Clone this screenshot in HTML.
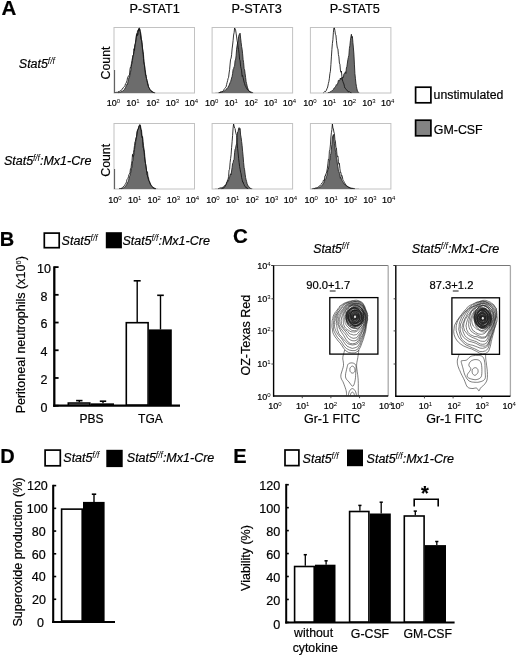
<!DOCTYPE html>
<html><head><meta charset="utf-8"><title>Figure</title>
<style>html,body{margin:0;padding:0;background:#fff;}body{width:520px;height:657px;overflow:hidden;}svg{display:block;}text{stroke:#000;stroke-width:0.2px;}tspan[font-size]{stroke-width:0;}</style>
</head><body>
<svg width="520" height="657" viewBox="0 0 520 657" font-family="'Liberation Sans', Arial, sans-serif" fill="#000">
<rect x="0" y="0" width="520" height="657" fill="#fff"/>
<text x="1.4" y="15.4" font-size="20.5" font-weight="bold">A</text>
<text x="154.6" y="12.7" font-size="12.7" text-anchor="middle">P-STAT1</text>
<text x="256.6" y="12.7" font-size="12.7" text-anchor="middle">P-STAT3</text>
<text x="354.8" y="12.7" font-size="12.7" text-anchor="middle">P-STAT5</text>
<text x="18.8" y="67.6" font-size="12.5" font-style="italic">Stat5<tspan font-size="8.5" dx="-0.2" dy="-3.9">f/f</tspan></text>
<text x="3.9" y="164.6" font-size="12.5" font-style="italic">Stat5<tspan font-size="8.5" dx="-0.2" dy="-3.9">f/f</tspan><tspan dy="3.9">:Mx1-Cre</tspan></text>
<rect x="114" y="27.5" width="80.5" height="65.5" fill="#fff" stroke="#c2c2c2" stroke-width="1"/>
<path d="M114.5 93 L114.5 92.94 L115 92.92 L115.5 92.9 L116 92.87 L116.5 92.83 L117 92.79 L117.5 92.74 L118 92.67 L118.5 92.59 L119 92.49 L119.5 92.27 L120 92.16 L120.5 92.03 L121 92.02 L121.5 91.6 L122 91.16 L122.5 91.21 L123 90.63 L123.5 90.43 L124 89.8 L124.5 89.36 L125 88.2 L125.5 87.75 L126 86.2 L126.5 85.15 L127 84.12 L127.5 84.34 L128 81.54 L128.5 79.49 L129 77.49 L129.5 77.33 L130 74.03 L130.5 72.35 L131 69.63 L131.5 64.55 L132 64.2 L132.5 60.29 L133 56.1 L133.5 54.95 L134 51.23 L134.5 47.85 L135 44.86 L135.5 43.56 L136 39.04 L136.5 34.73 L137 36.11 L137.5 30.89 L138 30.11 L138.5 29.8 L139 28 L139.5 28 L140 31.25 L140.5 32.1 L141 34.71 L141.5 39.5 L142 42.54 L142.5 47.88 L143 51.38 L143.5 54.77 L144 61.78 L144.5 64.68 L145 69.32 L145.5 72.02 L146 76.68 L146.5 78.68 L147 80.74 L147.5 82.13 L148 83.95 L148.5 86.74 L149 87.77 L149.5 88.4 L150 89.95 L150.5 90.34 L151 90.87 L151.5 91.09 L152 91.59 L152.5 92.09 L153 92.33 L153.5 92.45 L154 92.59 L154.5 92.69 L155 92.78 L155.5 92.84 L156 92.88 L156.5 92.91 L157 92.94 L157.5 92.96 L158 92.97 L158.5 92.98 L159 92.99 L159.5 92.99 L160 92.99 L160.5 93 L161 93 L161.5 93 L162 93 L162.5 93 L163 93 L163.5 93 L164 93 L164.5 93 L165 93 L165.5 93 L166 93 L166.5 93 L167 93 L167.5 93 L168 93 L168.5 93 L169 93 L169.5 93 L170 93 L170.5 93 L171 93 L171.5 93 L172 93 L172.5 93 L173 93 L173.5 93 L174 93 L174.5 93 L175 93 L175.5 93 L176 93 L176.5 93 L177 93 L177.5 93 L178 93 L178.5 93 L179 93 L179.5 93 L180 93 L180.5 93 L181 93 L181.5 93 L182 93 L182.5 93 L183 93 L183.5 93 L184 93 L184.5 93 L185 93 L185.5 93 L186 93 L186.5 93 L187 93 L187.5 93 L188 93 L188.5 93 L189 93 L189.5 93 L190 93 L190.5 93 L191 93 L191.5 93 L192 93 L192.5 93 L193 93 L193.5 93 L194 93 L194 93 Z" fill="#6c6c6c"/>
<path d="M118 92.67 L118.5 92.59 L119 92.49 L119.5 92.27 L120 92.16 L120.5 92.03 L121 92.02 L121.5 91.6 L122 91.16 L122.5 91.21 L123 90.63 L123.5 90.43 L124 89.8 L124.5 89.36 L125 88.2 L125.5 87.75 L126 86.2 L126.5 85.15 L127 84.12 L127.5 84.34 L128 81.54 L128.5 79.49 L129 77.49 L129.5 77.33 L130 74.03 L130.5 72.35 L131 69.63 L131.5 64.55 L132 64.2 L132.5 60.29 L133 56.1 L133.5 54.95 L134 51.23 L134.5 47.85 L135 44.86 L135.5 43.56 L136 39.04 L136.5 34.73 L137 36.11 L137.5 30.89 L138 30.11 L138.5 29.8 L139 28 L139.5 28 L140 31.25 L140.5 32.1 L141 34.71 L141.5 39.5 L142 42.54 L142.5 47.88 L143 51.38 L143.5 54.77 L144 61.78 L144.5 64.68 L145 69.32 L145.5 72.02 L146 76.68 L146.5 78.68 L147 80.74 L147.5 82.13 L148 83.95 L148.5 86.74 L149 87.77 L149.5 88.4 L150 89.95 L150.5 90.34 L151 90.87 L151.5 91.09 L152 91.59 L152.5 92.09 L153 92.33 L153.5 92.45 L154 92.59 L154.5 92.69" fill="none" stroke="#222" stroke-width="0.9"/>
<path d="M114.5 92.62 L115 92.55 L115.5 92.47 L116 92.72 L116.5 92.32 L117 92.29 L117.5 92.42 L118 91.65 L118.5 91.65 L119 91.41 L119.5 91.36 L120 90.79 L120.5 90.7 L121 90.25 L121.5 90.09 L122 89.7 L122.5 88.38 L123 88.44 L123.5 87.48 L124 86.9 L124.5 86.33 L125 85.52 L125.5 83.8 L126 83.41 L126.5 82.14 L127 80.71 L127.5 78.06 L128 77.02 L128.5 75.72 L129 75.33 L129.5 74.85 L130 69.14 L130.5 67.02 L131 66.58 L131.5 63.16 L132 60.36 L132.5 57.77 L133 55.03 L133.5 54.59 L134 48.74 L134.5 50.45 L135 44.37 L135.5 42.3 L136 39.1 L136.5 35.02 L137 33.33 L137.5 35.43 L138 34.46 L138.5 28.97 L139 30.89 L139.5 29.21 L140 29.32 L140.5 35.76 L141 39.72 L141.5 39.67 L142 44.11 L142.5 48.89 L143 52.81 L143.5 58.58 L144 63.82 L144.5 65.64 L145 70.65 L145.5 75.13 L146 74.88 L146.5 78.42 L147 80.38 L147.5 83.69 L148 85.15 L148.5 86.8 L149 87.95 L149.5 88.59 L150 89.77 L150.5 90.2 L151 90.8 L151.5 90.88 L152 92.08 L152.5 91.83 L153 92.29 L153.5 92.45 L154 92.59 L154.5 92.7" fill="none" stroke="#111" stroke-width="0.85"/>
<line x1="114.6" y1="70" x2="114.6" y2="93" stroke="#555" stroke-width="1"/>
<text x="106.8" y="106.3" font-size="9">10<tspan font-size="6" dy="-2.9">0</tspan></text>
<text x="126.3" y="106.3" font-size="9">10<tspan font-size="6" dy="-2.9">1</tspan></text>
<text x="146.3" y="106.3" font-size="9">10<tspan font-size="6" dy="-2.9">2</tspan></text>
<text x="165.8" y="106.3" font-size="9">10<tspan font-size="6" dy="-2.9">3</tspan></text>
<text x="184.7" y="106.3" font-size="9">10<tspan font-size="6" dy="-2.9">4</tspan></text>
<text transform="translate(110.3,63) rotate(-90)" font-size="12.3" text-anchor="middle">Count</text>
<rect x="212.1" y="27.5" width="80.5" height="65.5" fill="#fff" stroke="#c2c2c2" stroke-width="1"/>
<path d="M212.6 93 L212.6 92.96 L213.1 92.95 L213.6 92.94 L214.1 92.92 L214.6 92.91 L215.1 92.89 L215.6 92.87 L216.1 92.85 L216.6 92.82 L217.1 92.79 L217.6 92.75 L218.1 92.71 L218.6 92.66 L219.1 92.6 L219.6 92.53 L220.1 92.44 L220.6 92.1 L221.1 92.41 L221.6 91.9 L222.1 91.66 L222.6 91.73 L223.1 91.48 L223.6 90.97 L224.1 91.13 L224.6 90.9 L225.1 90.7 L225.6 90.02 L226.1 89.24 L226.6 88.8 L227.1 88.73 L227.6 88.07 L228.1 87.21 L228.6 86.02 L229.1 85.28 L229.6 83.96 L230.1 82.66 L230.6 81.71 L231.1 79.99 L231.6 78.06 L232.1 76.47 L232.6 73.69 L233.1 69.6 L233.6 68.78 L234.1 66.78 L234.6 66.13 L235.1 60.31 L235.6 60.02 L236.1 55.81 L236.6 49.22 L237.1 45.67 L237.6 43.02 L238.1 41.42 L238.6 36.42 L239.1 35 L239.6 33.86 L240.1 33.19 L240.6 38.1 L241.1 42.41 L241.6 46.55 L242.1 49.22 L242.6 53.8 L243.1 59.64 L243.6 62.55 L244.1 68.61 L244.6 69.81 L245.1 73.82 L245.6 77.42 L246.1 81.76 L246.6 83.61 L247.1 86.07 L247.6 87.85 L248.1 89.16 L248.6 90.39 L249.1 91.23 L249.6 91.4 L250.1 92.04 L250.6 92.28 L251.1 92.55 L251.6 92.7 L252.1 92.81 L252.6 92.88 L253.1 92.93 L253.6 92.95 L254.1 92.97 L254.6 92.98 L255.1 92.99 L255.6 92.99 L256.1 93 L256.6 93 L257.1 93 L257.6 93 L258.1 93 L258.6 93 L259.1 93 L259.6 93 L260.1 93 L260.6 93 L261.1 93 L261.6 93 L262.1 93 L262.6 93 L263.1 93 L263.6 93 L264.1 93 L264.6 93 L265.1 93 L265.6 93 L266.1 93 L266.6 93 L267.1 93 L267.6 93 L268.1 93 L268.6 93 L269.1 93 L269.6 93 L270.1 93 L270.6 93 L271.1 93 L271.6 93 L272.1 93 L272.6 93 L273.1 93 L273.6 93 L274.1 93 L274.6 93 L275.1 93 L275.6 93 L276.1 93 L276.6 93 L277.1 93 L277.6 93 L278.1 93 L278.6 93 L279.1 93 L279.6 93 L280.1 93 L280.6 93 L281.1 93 L281.6 93 L282.1 93 L282.6 93 L283.1 93 L283.6 93 L284.1 93 L284.6 93 L285.1 93 L285.6 93 L286.1 93 L286.6 93 L287.1 93 L287.6 93 L288.1 93 L288.6 93 L289.1 93 L289.6 93 L290.1 93 L290.6 93 L291.1 93 L291.6 93 L292.1 93 L292.1 93 Z" fill="#6c6c6c"/>
<path d="M218.6 92.66 L219.1 92.6 L219.6 92.53 L220.1 92.44 L220.6 92.1 L221.1 92.41 L221.6 91.9 L222.1 91.66 L222.6 91.73 L223.1 91.48 L223.6 90.97 L224.1 91.13 L224.6 90.9 L225.1 90.7 L225.6 90.02 L226.1 89.24 L226.6 88.8 L227.1 88.73 L227.6 88.07 L228.1 87.21 L228.6 86.02 L229.1 85.28 L229.6 83.96 L230.1 82.66 L230.6 81.71 L231.1 79.99 L231.6 78.06 L232.1 76.47 L232.6 73.69 L233.1 69.6 L233.6 68.78 L234.1 66.78 L234.6 66.13 L235.1 60.31 L235.6 60.02 L236.1 55.81 L236.6 49.22 L237.1 45.67 L237.6 43.02 L238.1 41.42 L238.6 36.42 L239.1 35 L239.6 33.86 L240.1 33.19 L240.6 38.1 L241.1 42.41 L241.6 46.55 L242.1 49.22 L242.6 53.8 L243.1 59.64 L243.6 62.55 L244.1 68.61 L244.6 69.81 L245.1 73.82 L245.6 77.42 L246.1 81.76 L246.6 83.61 L247.1 86.07 L247.6 87.85 L248.1 89.16 L248.6 90.39 L249.1 91.23 L249.6 91.4 L250.1 92.04 L250.6 92.28 L251.1 92.55 L251.6 92.7" fill="none" stroke="#222" stroke-width="0.9"/>
<path d="M219.1 92.64 L219.6 92.54 L220.1 92.42 L220.6 92.14 L221.1 92.34 L221.6 91.6 L222.1 91.82 L222.6 91.28 L223.1 91.15 L223.6 90.5 L224.1 89.27 L224.6 88.63 L225.1 88.17 L225.6 87.37 L226.1 86.81 L226.6 84.52 L227.1 82.58 L227.6 80.67 L228.1 78.45 L228.6 77.32 L229.1 72.99 L229.6 69.72 L230.1 64.02 L230.6 59.2 L231.1 58.19 L231.6 54.72 L232.1 48.93 L232.6 45.03 L233.1 40.55 L233.6 35.02 L234.1 32.74 L234.6 28 L235.1 28.98 L235.6 30.11 L236.1 33.19 L236.6 36.96 L237.1 40.58 L237.6 42.96 L238.1 47.12 L238.6 49.59 L239.1 53.69 L239.6 59.5 L240.1 60.74 L240.6 66.36 L241.1 68.36 L241.6 70.81 L242.1 76.38 L242.6 75.46 L243.1 77.68 L243.6 80.08 L244.1 82.13 L244.6 83.67 L245.1 85.46 L245.6 86.23 L246.1 87.43 L246.6 88.08 L247.1 89.32 L247.6 89.56 L248.1 90.18 L248.6 90.74 L249.1 91.23 L249.6 91.34 L250.1 92.16 L250.6 91.89 L251.1 92.14 L251.6 92.29 L252.1 92.49 L252.6 92.6 L253.1 92.68" fill="none" stroke="#111" stroke-width="0.85"/>
<text x="204.9" y="106.3" font-size="9">10<tspan font-size="6" dy="-2.9">0</tspan></text>
<text x="224.4" y="106.3" font-size="9">10<tspan font-size="6" dy="-2.9">1</tspan></text>
<text x="244.4" y="106.3" font-size="9">10<tspan font-size="6" dy="-2.9">2</tspan></text>
<text x="263.9" y="106.3" font-size="9">10<tspan font-size="6" dy="-2.9">3</tspan></text>
<text x="282.8" y="106.3" font-size="9">10<tspan font-size="6" dy="-2.9">4</tspan></text>
<rect x="310.4" y="27.5" width="80.5" height="65.5" fill="#fff" stroke="#c2c2c2" stroke-width="1"/>
<path d="M310.9 93 L310.9 93 L311.4 93 L311.9 93 L312.4 93 L312.9 93 L313.4 93 L313.9 93 L314.4 93 L314.9 93 L315.4 93 L315.9 93 L316.4 93 L316.9 93 L317.4 93 L317.9 93 L318.4 93 L318.9 93 L319.4 93 L319.9 93 L320.4 93 L320.9 93 L321.4 92.99 L321.9 92.99 L322.4 92.99 L322.9 92.98 L323.4 92.98 L323.9 92.97 L324.4 92.96 L324.9 92.94 L325.4 92.92 L325.9 92.89 L326.4 92.86 L326.9 92.81 L327.4 92.74 L327.9 92.66 L328.4 92.55 L328.9 92.42 L329.4 92.4 L329.9 92.08 L330.4 91.77 L330.9 91.4 L331.4 91.24 L331.9 90.69 L332.4 90.5 L332.9 89.9 L333.4 89.51 L333.9 88.32 L334.4 87.98 L334.9 87.54 L335.4 86.68 L335.9 85.87 L336.4 84.64 L336.9 85.15 L337.4 84.13 L337.9 83.02 L338.4 80.29 L338.9 80.73 L339.4 80.93 L339.9 79.7 L340.4 78.01 L340.9 79.53 L341.4 79.24 L341.9 77.36 L342.4 77.59 L342.9 76.9 L343.4 77.5 L343.9 74.11 L344.4 73.3 L344.9 73.39 L345.4 71.75 L345.9 73.52 L346.4 67.97 L346.9 66.62 L347.4 63.01 L347.9 59.52 L348.4 57.34 L348.9 55.26 L349.4 48.47 L349.9 45.62 L350.4 40.76 L350.9 37.05 L351.4 34.3 L351.9 38 L352.4 36.48 L352.9 42.65 L353.4 47.94 L353.9 54.09 L354.4 64.12 L354.9 73.54 L355.4 78.25 L355.9 83.17 L356.4 86.34 L356.9 88.77 L357.4 90.96 L357.9 91.61 L358.4 92.61 L358.9 92.67 L359.4 92.85 L359.9 92.93 L360.4 92.97 L360.9 92.99 L361.4 93 L361.9 93 L362.4 93 L362.9 93 L363.4 93 L363.9 93 L364.4 93 L364.9 93 L365.4 93 L365.9 93 L366.4 93 L366.9 93 L367.4 93 L367.9 93 L368.4 93 L368.9 93 L369.4 93 L369.9 93 L370.4 93 L370.9 93 L371.4 93 L371.9 93 L372.4 93 L372.9 93 L373.4 93 L373.9 93 L374.4 93 L374.9 93 L375.4 93 L375.9 93 L376.4 93 L376.9 93 L377.4 93 L377.9 93 L378.4 93 L378.9 93 L379.4 93 L379.9 93 L380.4 93 L380.9 93 L381.4 93 L381.9 93 L382.4 93 L382.9 93 L383.4 93 L383.9 93 L384.4 93 L384.9 93 L385.4 93 L385.9 93 L386.4 93 L386.9 93 L387.4 93 L387.9 93 L388.4 93 L388.9 93 L389.4 93 L389.9 93 L390.4 93 L390.4 93 Z" fill="#6c6c6c"/>
<path d="M327.9 92.66 L328.4 92.55 L328.9 92.42 L329.4 92.4 L329.9 92.08 L330.4 91.77 L330.9 91.4 L331.4 91.24 L331.9 90.69 L332.4 90.5 L332.9 89.9 L333.4 89.51 L333.9 88.32 L334.4 87.98 L334.9 87.54 L335.4 86.68 L335.9 85.87 L336.4 84.64 L336.9 85.15 L337.4 84.13 L337.9 83.02 L338.4 80.29 L338.9 80.73 L339.4 80.93 L339.9 79.7 L340.4 78.01 L340.9 79.53 L341.4 79.24 L341.9 77.36 L342.4 77.59 L342.9 76.9 L343.4 77.5 L343.9 74.11 L344.4 73.3 L344.9 73.39 L345.4 71.75 L345.9 73.52 L346.4 67.97 L346.9 66.62 L347.4 63.01 L347.9 59.52 L348.4 57.34 L348.9 55.26 L349.4 48.47 L349.9 45.62 L350.4 40.76 L350.9 37.05 L351.4 34.3 L351.9 38 L352.4 36.48 L352.9 42.65 L353.4 47.94 L353.9 54.09 L354.4 64.12 L354.9 73.54 L355.4 78.25 L355.9 83.17 L356.4 86.34 L356.9 88.77 L357.4 90.96 L357.9 91.61 L358.4 92.61" fill="none" stroke="#222" stroke-width="0.9"/>
<path d="M323.4 92.66 L323.9 92.49 L324.4 92.03 L324.9 91.33 L325.4 91.74 L325.9 91 L326.4 90.27 L326.9 88.73 L327.4 88.06 L327.9 86.01 L328.4 83.43 L328.9 81.5 L329.4 78.24 L329.9 73.58 L330.4 71.28 L330.9 64.67 L331.4 56.89 L331.9 49.48 L332.4 43.41 L332.9 39.69 L333.4 32.3 L333.9 28 L334.4 28 L334.9 30.53 L335.4 34.34 L335.9 34.98 L336.4 40.37 L336.9 45.03 L337.4 48.32 L337.9 48.64 L338.4 54.5 L338.9 56.79 L339.4 63.06 L339.9 64.25 L340.4 69.95 L340.9 72.24 L341.4 71.1 L341.9 76.25 L342.4 80 L342.9 81.52 L343.4 82.95 L343.9 83.94 L344.4 86.35 L344.9 88.04 L345.4 88.33 L345.9 89.06 L346.4 89.75 L346.9 90.06 L347.4 90.8 L347.9 91.09 L348.4 91.89 L348.9 91.7 L349.4 91.63 L349.9 92.13 L350.4 92.46 L350.9 92.58 L351.4 92.67" fill="none" stroke="#111" stroke-width="0.85"/>
<text x="303.2" y="106.3" font-size="9">10<tspan font-size="6" dy="-2.9">0</tspan></text>
<text x="322.7" y="106.3" font-size="9">10<tspan font-size="6" dy="-2.9">1</tspan></text>
<text x="342.7" y="106.3" font-size="9">10<tspan font-size="6" dy="-2.9">2</tspan></text>
<text x="362.2" y="106.3" font-size="9">10<tspan font-size="6" dy="-2.9">3</tspan></text>
<text x="381.1" y="106.3" font-size="9">10<tspan font-size="6" dy="-2.9">4</tspan></text>
<rect x="114" y="123.5" width="80.5" height="65.5" fill="#fff" stroke="#c2c2c2" stroke-width="1"/>
<path d="M114.5 189 L114.5 188.99 L115 188.99 L115.5 188.99 L116 188.98 L116.5 188.98 L117 188.97 L117.5 188.96 L118 188.94 L118.5 188.92 L119 188.89 L119.5 188.86 L120 188.81 L120.5 188.75 L121 188.68 L121.5 188.58 L122 188.46 L122.5 188.35 L123 188.29 L123.5 187.8 L124 187.76 L124.5 187.41 L125 187.1 L125.5 186.29 L126 185.55 L126.5 184.66 L127 184.12 L127.5 182.67 L128 181.91 L128.5 180.64 L129 178.71 L129.5 176.59 L130 175.78 L130.5 173.63 L131 171.26 L131.5 168.45 L132 167.02 L132.5 161.62 L133 160.43 L133.5 156.13 L134 154.53 L134.5 149.65 L135 146.26 L135.5 144.01 L136 137.61 L136.5 136.68 L137 131.99 L137.5 130.46 L138 130.3 L138.5 128.06 L139 125.54 L139.5 125.06 L140 124.65 L140.5 125.68 L141 129.45 L141.5 130.02 L142 135.85 L142.5 136.17 L143 141.58 L143.5 145.71 L144 149.26 L144.5 152.76 L145 158.99 L145.5 163.23 L146 165.92 L146.5 170.49 L147 171.99 L147.5 171.96 L148 176.87 L148.5 177.63 L149 180.75 L149.5 181.39 L150 183.02 L150.5 184.06 L151 184.85 L151.5 185.44 L152 186.42 L152.5 186.97 L153 187.62 L153.5 187.66 L154 188.1 L154.5 188.11 L155 188.45 L155.5 188.58 L156 188.68 L156.5 188.76 L157 188.83 L157.5 188.87 L158 188.91 L158.5 188.93 L159 188.95 L159.5 188.96 L160 188.97 L160.5 188.98 L161 188.99 L161.5 188.99 L162 188.99 L162.5 189 L163 189 L163.5 189 L164 189 L164.5 189 L165 189 L165.5 189 L166 189 L166.5 189 L167 189 L167.5 189 L168 189 L168.5 189 L169 189 L169.5 189 L170 189 L170.5 189 L171 189 L171.5 189 L172 189 L172.5 189 L173 189 L173.5 189 L174 189 L174.5 189 L175 189 L175.5 189 L176 189 L176.5 189 L177 189 L177.5 189 L178 189 L178.5 189 L179 189 L179.5 189 L180 189 L180.5 189 L181 189 L181.5 189 L182 189 L182.5 189 L183 189 L183.5 189 L184 189 L184.5 189 L185 189 L185.5 189 L186 189 L186.5 189 L187 189 L187.5 189 L188 189 L188.5 189 L189 189 L189.5 189 L190 189 L190.5 189 L191 189 L191.5 189 L192 189 L192.5 189 L193 189 L193.5 189 L194 189 L194 189 Z" fill="#6c6c6c"/>
<path d="M121 188.68 L121.5 188.58 L122 188.46 L122.5 188.35 L123 188.29 L123.5 187.8 L124 187.76 L124.5 187.41 L125 187.1 L125.5 186.29 L126 185.55 L126.5 184.66 L127 184.12 L127.5 182.67 L128 181.91 L128.5 180.64 L129 178.71 L129.5 176.59 L130 175.78 L130.5 173.63 L131 171.26 L131.5 168.45 L132 167.02 L132.5 161.62 L133 160.43 L133.5 156.13 L134 154.53 L134.5 149.65 L135 146.26 L135.5 144.01 L136 137.61 L136.5 136.68 L137 131.99 L137.5 130.46 L138 130.3 L138.5 128.06 L139 125.54 L139.5 125.06 L140 124.65 L140.5 125.68 L141 129.45 L141.5 130.02 L142 135.85 L142.5 136.17 L143 141.58 L143.5 145.71 L144 149.26 L144.5 152.76 L145 158.99 L145.5 163.23 L146 165.92 L146.5 170.49 L147 171.99 L147.5 171.96 L148 176.87 L148.5 177.63 L149 180.75 L149.5 181.39 L150 183.02 L150.5 184.06 L151 184.85 L151.5 185.44 L152 186.42 L152.5 186.97 L153 187.62 L153.5 187.66 L154 188.1 L154.5 188.11 L155 188.45 L155.5 188.58 L156 188.68" fill="none" stroke="#222" stroke-width="0.9"/>
<path d="M119 188.65 L119.5 188.56 L120 188.44 L120.5 188.49 L121 188.68 L121.5 188.11 L122 188.17 L122.5 187.4 L123 186.78 L123.5 186.46 L124 186.45 L124.5 185.76 L125 184.3 L125.5 183.99 L126 183.23 L126.5 181.65 L127 179.52 L127.5 178.83 L128 178.22 L128.5 176.39 L129 174.28 L129.5 173.82 L130 172.47 L130.5 168.59 L131 167.76 L131.5 163.77 L132 160.8 L132.5 154.38 L133 156.57 L133.5 152.42 L134 149.47 L134.5 145.49 L135 141.54 L135.5 141.1 L136 138.86 L136.5 137.58 L137 134.06 L137.5 129.62 L138 128.61 L138.5 128.87 L139 126.8 L139.5 125.56 L140 124.88 L140.5 128 L141 129.74 L141.5 135.23 L142 137.64 L142.5 137.05 L143 147.18 L143.5 148.35 L144 151.59 L144.5 156.56 L145 161.11 L145.5 163.55 L146 166.84 L146.5 170.05 L147 175.16 L147.5 175.38 L148 178.22 L148.5 179.78 L149 180.88 L149.5 182.12 L150 183.29 L150.5 184.86 L151 185.29 L151.5 185.96 L152 186.55 L152.5 186.95 L153 187.7 L153.5 188.01 L154 188.01 L154.5 188.72 L155 188.54 L155.5 188.65" fill="none" stroke="#111" stroke-width="0.85"/>
<line x1="114.6" y1="169" x2="114.6" y2="189" stroke="#555" stroke-width="1"/>
<text x="108.2" y="202.5" font-size="9">10<tspan font-size="6" dy="-2.9">0</tspan></text>
<text x="128" y="202.5" font-size="9">10<tspan font-size="6" dy="-2.9">1</tspan></text>
<text x="147.5" y="202.5" font-size="9">10<tspan font-size="6" dy="-2.9">2</tspan></text>
<text x="166.8" y="202.5" font-size="9">10<tspan font-size="6" dy="-2.9">3</tspan></text>
<text x="185.7" y="202.5" font-size="9">10<tspan font-size="6" dy="-2.9">4</tspan></text>
<text transform="translate(110.3,160.3) rotate(-90)" font-size="12.3" text-anchor="middle">Count</text>
<rect x="212.1" y="123.5" width="80.5" height="65.5" fill="#fff" stroke="#c2c2c2" stroke-width="1"/>
<path d="M212.6 189 L212.6 188.95 L213.1 188.94 L213.6 188.93 L214.1 188.91 L214.6 188.89 L215.1 188.87 L215.6 188.85 L216.1 188.82 L216.6 188.78 L217.1 188.74 L217.6 188.69 L218.1 188.63 L218.6 188.56 L219.1 188.47 L219.6 188.14 L220.1 188.15 L220.6 187.79 L221.1 187.78 L221.6 187.81 L222.1 187.62 L222.6 187.33 L223.1 187.03 L223.6 186.85 L224.1 186.38 L224.6 185.63 L225.1 185.86 L225.6 184.85 L226.1 184.58 L226.6 183.53 L227.1 182.46 L227.6 181.93 L228.1 180.49 L228.6 180.73 L229.1 177.78 L229.6 177.62 L230.1 175.09 L230.6 173.77 L231.1 174.95 L231.6 171.04 L232.1 167.65 L232.6 163.57 L233.1 162.71 L233.6 160.07 L234.1 159.4 L234.6 152.73 L235.1 149.14 L235.6 148.26 L236.1 145.33 L236.6 143.89 L237.1 137.42 L237.6 131.97 L238.1 131.7 L238.6 128.52 L239.1 127.65 L239.6 129.68 L240.1 128.55 L240.6 134.96 L241.1 137.56 L241.6 141.46 L242.1 145.57 L242.6 151.2 L243.1 156.19 L243.6 162.43 L244.1 167.52 L244.6 169.77 L245.1 174.11 L245.6 177.53 L246.1 179.89 L246.6 181.5 L247.1 183.76 L247.6 184.87 L248.1 185.97 L248.6 186.46 L249.1 187.1 L249.6 187.3 L250.1 188.36 L250.6 188.48 L251.1 188.55 L251.6 188.69 L252.1 188.79 L252.6 188.86 L253.1 188.91 L253.6 188.94 L254.1 188.96 L254.6 188.98 L255.1 188.98 L255.6 188.99 L256.1 188.99 L256.6 189 L257.1 189 L257.6 189 L258.1 189 L258.6 189 L259.1 189 L259.6 189 L260.1 189 L260.6 189 L261.1 189 L261.6 189 L262.1 189 L262.6 189 L263.1 189 L263.6 189 L264.1 189 L264.6 189 L265.1 189 L265.6 189 L266.1 189 L266.6 189 L267.1 189 L267.6 189 L268.1 189 L268.6 189 L269.1 189 L269.6 189 L270.1 189 L270.6 189 L271.1 189 L271.6 189 L272.1 189 L272.6 189 L273.1 189 L273.6 189 L274.1 189 L274.6 189 L275.1 189 L275.6 189 L276.1 189 L276.6 189 L277.1 189 L277.6 189 L278.1 189 L278.6 189 L279.1 189 L279.6 189 L280.1 189 L280.6 189 L281.1 189 L281.6 189 L282.1 189 L282.6 189 L283.1 189 L283.6 189 L284.1 189 L284.6 189 L285.1 189 L285.6 189 L286.1 189 L286.6 189 L287.1 189 L287.6 189 L288.1 189 L288.6 189 L289.1 189 L289.6 189 L290.1 189 L290.6 189 L291.1 189 L291.6 189 L292.1 189 L292.1 189 Z" fill="#6c6c6c"/>
<path d="M218.1 188.63 L218.6 188.56 L219.1 188.47 L219.6 188.14 L220.1 188.15 L220.6 187.79 L221.1 187.78 L221.6 187.81 L222.1 187.62 L222.6 187.33 L223.1 187.03 L223.6 186.85 L224.1 186.38 L224.6 185.63 L225.1 185.86 L225.6 184.85 L226.1 184.58 L226.6 183.53 L227.1 182.46 L227.6 181.93 L228.1 180.49 L228.6 180.73 L229.1 177.78 L229.6 177.62 L230.1 175.09 L230.6 173.77 L231.1 174.95 L231.6 171.04 L232.1 167.65 L232.6 163.57 L233.1 162.71 L233.6 160.07 L234.1 159.4 L234.6 152.73 L235.1 149.14 L235.6 148.26 L236.1 145.33 L236.6 143.89 L237.1 137.42 L237.6 131.97 L238.1 131.7 L238.6 128.52 L239.1 127.65 L239.6 129.68 L240.1 128.55 L240.6 134.96 L241.1 137.56 L241.6 141.46 L242.1 145.57 L242.6 151.2 L243.1 156.19 L243.6 162.43 L244.1 167.52 L244.6 169.77 L245.1 174.11 L245.6 177.53 L246.1 179.89 L246.6 181.5 L247.1 183.76 L247.6 184.87 L248.1 185.97 L248.6 186.46 L249.1 187.1 L249.6 187.3 L250.1 188.36 L250.6 188.48 L251.1 188.55 L251.6 188.69" fill="none" stroke="#222" stroke-width="0.9"/>
<path d="M221.6 188.64 L222.1 188.51 L222.6 188.39 L223.1 188.1 L223.6 188.19 L224.1 187.62 L224.6 186.86 L225.1 186.29 L225.6 185.23 L226.1 184.53 L226.6 182.25 L227.1 182.19 L227.6 179.71 L228.1 179.35 L228.6 176.28 L229.1 169.77 L229.6 169.32 L230.1 162.59 L230.6 158.6 L231.1 154.69 L231.6 147.66 L232.1 141.75 L232.6 135.57 L233.1 127.96 L233.6 124.02 L234.1 126.05 L234.6 128.04 L235.1 128.47 L235.6 132.12 L236.1 133.91 L236.6 135.31 L237.1 142.49 L237.6 148.3 L238.1 152.93 L238.6 158.34 L239.1 162.54 L239.6 166.57 L240.1 169.16 L240.6 172.35 L241.1 173.79 L241.6 177.55 L242.1 179.51 L242.6 181.98 L243.1 181.98 L243.6 183.91 L244.1 184.63 L244.6 185.85 L245.1 186.38 L245.6 187.35 L246.1 187.54 L246.6 187.4 L247.1 188.59 L247.6 188.49 L248.1 188.63" fill="none" stroke="#111" stroke-width="0.85"/>
<text x="206.3" y="202.5" font-size="9">10<tspan font-size="6" dy="-2.9">0</tspan></text>
<text x="226.1" y="202.5" font-size="9">10<tspan font-size="6" dy="-2.9">1</tspan></text>
<text x="245.6" y="202.5" font-size="9">10<tspan font-size="6" dy="-2.9">2</tspan></text>
<text x="264.9" y="202.5" font-size="9">10<tspan font-size="6" dy="-2.9">3</tspan></text>
<text x="283.8" y="202.5" font-size="9">10<tspan font-size="6" dy="-2.9">4</tspan></text>
<rect x="310.4" y="123.5" width="80.5" height="65.5" fill="#fff" stroke="#c2c2c2" stroke-width="1"/>
<path d="M310.9 189 L310.9 188.89 L311.4 188.87 L311.9 188.85 L312.4 188.82 L312.9 188.79 L313.4 188.75 L313.9 188.71 L314.4 188.66 L314.9 188.6 L315.4 188.53 L315.9 188.44 L316.4 188.13 L316.9 188.31 L317.4 188.16 L317.9 187.9 L318.4 187.56 L318.9 188.01 L319.4 187.49 L319.9 187.25 L320.4 186.95 L320.9 186.53 L321.4 186.11 L321.9 185.38 L322.4 185.14 L322.9 184.21 L323.4 183.37 L323.9 182.99 L324.4 181.67 L324.9 179.75 L325.4 179.23 L325.9 178.52 L326.4 176.55 L326.9 175.62 L327.4 172.5 L327.9 169.55 L328.4 169.27 L328.9 165.77 L329.4 161.06 L329.9 159.97 L330.4 155.56 L330.9 153.41 L331.4 149.14 L331.9 144.56 L332.4 136.82 L332.9 136.11 L333.4 134.5 L333.9 139.18 L334.4 143.26 L334.9 146.54 L335.4 151.18 L335.9 152.46 L336.4 158.26 L336.9 159.76 L337.4 164.09 L337.9 166.22 L338.4 171.16 L338.9 171.54 L339.4 173.34 L339.9 175.17 L340.4 178.22 L340.9 177.19 L341.4 179.29 L341.9 180.39 L342.4 181.24 L342.9 182.09 L343.4 182.6 L343.9 183.91 L344.4 184.37 L344.9 184.55 L345.4 185.08 L345.9 185.64 L346.4 186.06 L346.9 186.46 L347.4 186.62 L347.9 186.65 L348.4 187.33 L348.9 187.04 L349.4 187.37 L349.9 187.79 L350.4 187.7 L350.9 188.27 L351.4 188.44 L351.9 188.46 L352.4 188.38 L352.9 188.45 L353.4 188.45 L353.9 188.52 L354.4 188.58 L354.9 188.63 L355.4 188.67 L355.9 188.71 L356.4 188.74 L356.9 188.77 L357.4 188.8 L357.9 188.82 L358.4 188.85 L358.9 188.86 L359.4 188.88 L359.9 188.89 L360.4 188.91 L360.9 188.92 L361.4 188.93 L361.9 188.94 L362.4 188.94 L362.9 188.95 L363.4 188.96 L363.9 188.96 L364.4 188.97 L364.9 188.97 L365.4 188.97 L365.9 188.98 L366.4 188.98 L366.9 188.98 L367.4 188.98 L367.9 188.99 L368.4 188.99 L368.9 188.99 L369.4 188.99 L369.9 188.99 L370.4 188.99 L370.9 188.99 L371.4 188.99 L371.9 189 L372.4 189 L372.9 189 L373.4 189 L373.9 189 L374.4 189 L374.9 189 L375.4 189 L375.9 189 L376.4 189 L376.9 189 L377.4 189 L377.9 189 L378.4 189 L378.9 189 L379.4 189 L379.9 189 L380.4 189 L380.9 189 L381.4 189 L381.9 189 L382.4 189 L382.9 189 L383.4 189 L383.9 189 L384.4 189 L384.9 189 L385.4 189 L385.9 189 L386.4 189 L386.9 189 L387.4 189 L387.9 189 L388.4 189 L388.9 189 L389.4 189 L389.9 189 L390.4 189 L390.4 189 Z" fill="#6c6c6c"/>
<path d="M314.4 188.66 L314.9 188.6 L315.4 188.53 L315.9 188.44 L316.4 188.13 L316.9 188.31 L317.4 188.16 L317.9 187.9 L318.4 187.56 L318.9 188.01 L319.4 187.49 L319.9 187.25 L320.4 186.95 L320.9 186.53 L321.4 186.11 L321.9 185.38 L322.4 185.14 L322.9 184.21 L323.4 183.37 L323.9 182.99 L324.4 181.67 L324.9 179.75 L325.4 179.23 L325.9 178.52 L326.4 176.55 L326.9 175.62 L327.4 172.5 L327.9 169.55 L328.4 169.27 L328.9 165.77 L329.4 161.06 L329.9 159.97 L330.4 155.56 L330.9 153.41 L331.4 149.14 L331.9 144.56 L332.4 136.82 L332.9 136.11 L333.4 134.5 L333.9 139.18 L334.4 143.26 L334.9 146.54 L335.4 151.18 L335.9 152.46 L336.4 158.26 L336.9 159.76 L337.4 164.09 L337.9 166.22 L338.4 171.16 L338.9 171.54 L339.4 173.34 L339.9 175.17 L340.4 178.22 L340.9 177.19 L341.4 179.29 L341.9 180.39 L342.4 181.24 L342.9 182.09 L343.4 182.6 L343.9 183.91 L344.4 184.37 L344.9 184.55 L345.4 185.08 L345.9 185.64 L346.4 186.06 L346.9 186.46 L347.4 186.62 L347.9 186.65 L348.4 187.33 L348.9 187.04 L349.4 187.37 L349.9 187.79 L350.4 187.7 L350.9 188.27 L351.4 188.44 L351.9 188.46 L352.4 188.38 L352.9 188.45 L353.4 188.45 L353.9 188.52 L354.4 188.58 L354.9 188.63" fill="none" stroke="#222" stroke-width="0.9"/>
<path d="M312.4 188.62 L312.9 188.56 L313.4 188.49 L313.9 188.41 L314.4 188.44 L314.9 188.4 L315.4 187.85 L315.9 187.93 L316.4 188.06 L316.9 187.71 L317.4 187.59 L317.9 187.1 L318.4 186.87 L318.9 186.3 L319.4 186.05 L319.9 186.21 L320.4 185.22 L320.9 184.5 L321.4 184.02 L321.9 183.05 L322.4 182.99 L322.9 182.36 L323.4 180.19 L323.9 180.45 L324.4 180.19 L324.9 175.88 L325.4 176.01 L325.9 173.72 L326.4 173.23 L326.9 171 L327.4 168.09 L327.9 163.88 L328.4 159.44 L328.9 160.08 L329.4 151.2 L329.9 149.9 L330.4 144.94 L330.9 137.01 L331.4 132.78 L331.9 129.6 L332.4 124 L332.9 127.98 L333.4 128.91 L333.9 132.08 L334.4 133.48 L334.9 139.92 L335.4 141.08 L335.9 147.35 L336.4 147.77 L336.9 154.08 L337.4 156.6 L337.9 155.98 L338.4 161.34 L338.9 164.32 L339.4 163.37 L339.9 168.67 L340.4 172.5 L340.9 172.34 L341.4 176.35 L341.9 175.51 L342.4 177.01 L342.9 179.81 L343.4 180.96 L343.9 181.48 L344.4 182.51 L344.9 183.79 L345.4 183.86 L345.9 185.43 L346.4 185.43 L346.9 185.91 L347.4 186.31 L347.9 186.56 L348.4 187.26 L348.9 187.12 L349.4 187.55 L349.9 187.88 L350.4 188.25 L350.9 188.36 L351.4 188.13 L351.9 188.57 L352.4 188.44 L352.9 188.53 L353.4 188.6" fill="none" stroke="#111" stroke-width="0.85"/>
<text x="304.6" y="202.5" font-size="9">10<tspan font-size="6" dy="-2.9">0</tspan></text>
<text x="324.4" y="202.5" font-size="9">10<tspan font-size="6" dy="-2.9">1</tspan></text>
<text x="343.9" y="202.5" font-size="9">10<tspan font-size="6" dy="-2.9">2</tspan></text>
<text x="363.2" y="202.5" font-size="9">10<tspan font-size="6" dy="-2.9">3</tspan></text>
<text x="382.1" y="202.5" font-size="9">10<tspan font-size="6" dy="-2.9">4</tspan></text>
<rect x="415.6" y="87.2" width="15.3" height="15.6" fill="#fff" stroke="#000" stroke-width="1.7"/>
<text x="433.6" y="98.6" font-size="12.3">unstimulated</text>
<rect x="415.6" y="120.2" width="15.3" height="15.6" fill="#838383" stroke="#000" stroke-width="1.7"/>
<text x="433.8" y="134.2" font-size="12.4">GM-CSF</text>
<text x="-0.3" y="245.5" font-size="20" font-weight="bold">B</text>
<rect x="44.3" y="233.1" width="14.9" height="14.6" fill="#fff" stroke="#000" stroke-width="1.7"/>
<text x="61.6" y="244.6" font-size="12.5" font-style="italic">Stat5<tspan font-size="8.5" dx="-0.2" dy="-3.9">f/f</tspan></text>
<rect x="105.8" y="232.2" width="16.1" height="16.1" fill="#000"/>
<text x="122.4" y="244.6" font-size="12.5" font-style="italic">Stat5<tspan font-size="8.5" dx="-0.2" dy="-3.9">f/f</tspan><tspan dy="3.9">:Mx1-Cre</tspan></text>
<line x1="54.3" y1="266.3" x2="54.3" y2="406.9" stroke="#000" stroke-width="2.3"/>
<line x1="53.2" y1="405.7" x2="180" y2="405.7" stroke="#000" stroke-width="2.3"/>
<line x1="54.3" y1="405.7" x2="58.6" y2="405.7" stroke="#000" stroke-width="1.8"/>
<text x="43.9" y="411.6" font-size="12.5" text-anchor="middle">0</text>
<line x1="54.3" y1="377.98" x2="58.6" y2="377.98" stroke="#000" stroke-width="1.8"/>
<text x="43.9" y="383.88" font-size="12.5" text-anchor="middle">2</text>
<line x1="54.3" y1="350.26" x2="58.6" y2="350.26" stroke="#000" stroke-width="1.8"/>
<text x="43.9" y="356.16" font-size="12.5" text-anchor="middle">4</text>
<line x1="54.3" y1="322.54" x2="58.6" y2="322.54" stroke="#000" stroke-width="1.8"/>
<text x="43.9" y="328.44" font-size="12.5" text-anchor="middle">6</text>
<line x1="54.3" y1="294.82" x2="58.6" y2="294.82" stroke="#000" stroke-width="1.8"/>
<text x="43.9" y="300.72" font-size="12.5" text-anchor="middle">8</text>
<line x1="54.3" y1="267.1" x2="58.6" y2="267.1" stroke="#000" stroke-width="1.8"/>
<text x="43.9" y="273" font-size="12.5" text-anchor="middle">10</text>
<line x1="79.3" y1="402.24" x2="79.3" y2="400.6" stroke="#000" stroke-width="1.4"/>
<line x1="76.1" y1="400.6" x2="82.5" y2="400.6" stroke="#000" stroke-width="1.6"/>
<line x1="103" y1="403.34" x2="103" y2="401.2" stroke="#000" stroke-width="1.4"/>
<line x1="99.8" y1="401.2" x2="106.2" y2="401.2" stroke="#000" stroke-width="1.6"/>
<line x1="137.2" y1="322.5" x2="137.2" y2="280.8" stroke="#000" stroke-width="1.4"/>
<line x1="133.7" y1="280.8" x2="140.7" y2="280.8" stroke="#000" stroke-width="1.6"/>
<line x1="160.5" y1="329.5" x2="160.5" y2="295.3" stroke="#000" stroke-width="1.4"/>
<line x1="157.2" y1="295.3" x2="163.8" y2="295.3" stroke="#000" stroke-width="1.6"/>
<rect x="68.3" y="403.04" width="21.5" height="1.96" fill="#fff" stroke="#000" stroke-width="1.6"/>
<rect x="90.6" y="403.34" width="23.4" height="1.66" fill="#000"/>
<rect x="126.3" y="322.7" width="21.8" height="82.3" fill="#fff" stroke="#000" stroke-width="1.6"/>
<rect x="148.9" y="329.4" width="22.9" height="75.6" fill="#000"/>
<text x="91.5" y="423" font-size="12" text-anchor="middle">PBS</text>
<text x="150.4" y="423" font-size="12" text-anchor="middle">TGA</text>
<text transform="translate(24.8,334.7) rotate(-90)" font-size="12.5" text-anchor="middle">Peritoneal neutrophils (x10<tspan font-size="8" dy="-4">6</tspan><tspan dy="4">)</tspan></text>
<text x="233" y="242.8" font-size="20.5" font-weight="bold">C</text>
<text x="313.2" y="252.5" font-size="12.3" font-style="italic">Stat5<tspan font-size="8.5" dx="-0.2" dy="-3.9">f/f</tspan></text>
<text x="411.8" y="252.7" font-size="12.5" font-style="italic">Stat5<tspan font-size="8.5" dx="-0.2" dy="-3.9">f/f</tspan><tspan dy="3.9">:Mx1-Cre</tspan></text>
<text transform="translate(250.3,335.2) rotate(-90)" font-size="12.5" text-anchor="middle">OZ-Texas Red</text>
<line x1="271.1" y1="265.5" x2="388.2" y2="265.5" stroke="#777" stroke-width="1.1"/>
<line x1="388.2" y1="265.5" x2="388.2" y2="396" stroke="#aaa" stroke-width="1.3"/>
<line x1="273.6" y1="265.5" x2="273.6" y2="396.6" stroke="#000" stroke-width="1.4"/>
<line x1="273" y1="396" x2="388.2" y2="396" stroke="#000" stroke-width="1.5"/>
<line x1="271.4" y1="265.5" x2="273.6" y2="265.5" stroke="#333" stroke-width="0.9"/>
<line x1="271.4" y1="298.8" x2="273.6" y2="298.8" stroke="#333" stroke-width="0.9"/>
<line x1="271.4" y1="330.9" x2="273.6" y2="330.9" stroke="#333" stroke-width="0.9"/>
<line x1="271.4" y1="364" x2="273.6" y2="364" stroke="#333" stroke-width="0.9"/>
<line x1="302.25" y1="396" x2="302.25" y2="398.2" stroke="#333" stroke-width="0.9"/>
<line x1="330.9" y1="396" x2="330.9" y2="398.2" stroke="#333" stroke-width="0.9"/>
<line x1="359.55" y1="396" x2="359.55" y2="398.2" stroke="#333" stroke-width="0.9"/>
<text x="257.3" y="268.8" font-size="9">10<tspan font-size="6" dy="-2.9">4</tspan></text>
<text x="257.3" y="302.1" font-size="9">10<tspan font-size="6" dy="-2.9">3</tspan></text>
<text x="257.3" y="334.2" font-size="9">10<tspan font-size="6" dy="-2.9">2</tspan></text>
<text x="257.3" y="367.3" font-size="9">10<tspan font-size="6" dy="-2.9">1</tspan></text>
<text x="257.3" y="400" font-size="9">10<tspan font-size="6" dy="-2.9">0</tspan></text>
<text x="268.2" y="408.8" font-size="9">10<tspan font-size="6" dy="-2.9">0</tspan></text>
<text x="296" y="408.8" font-size="9">10<tspan font-size="6" dy="-2.9">1</tspan></text>
<text x="323.8" y="408.8" font-size="9">10<tspan font-size="6" dy="-2.9">2</tspan></text>
<text x="351.7" y="408.8" font-size="9">10<tspan font-size="6" dy="-2.9">3</tspan></text>
<text x="378.9" y="408.8" font-size="9">10<tspan font-size="6" dy="-2.9">4</tspan></text>
<text x="332.1" y="423" font-size="12.5" text-anchor="middle">Gr-1 FITC</text>
<line x1="393.3" y1="265.5" x2="510.4" y2="265.5" stroke="#777" stroke-width="1.1"/>
<line x1="510.4" y1="265.5" x2="510.4" y2="396.2" stroke="#aaa" stroke-width="1.3"/>
<line x1="395.8" y1="265.5" x2="395.8" y2="396.8" stroke="#000" stroke-width="1.4"/>
<line x1="395.2" y1="396.2" x2="510.4" y2="396.2" stroke="#000" stroke-width="1.5"/>
<line x1="393.6" y1="265.5" x2="395.8" y2="265.5" stroke="#333" stroke-width="0.9"/>
<line x1="393.6" y1="298.8" x2="395.8" y2="298.8" stroke="#333" stroke-width="0.9"/>
<line x1="393.6" y1="330.9" x2="395.8" y2="330.9" stroke="#333" stroke-width="0.9"/>
<line x1="393.6" y1="364" x2="395.8" y2="364" stroke="#333" stroke-width="0.9"/>
<line x1="424.45" y1="396.2" x2="424.45" y2="398.4" stroke="#333" stroke-width="0.9"/>
<line x1="453.1" y1="396.2" x2="453.1" y2="398.4" stroke="#333" stroke-width="0.9"/>
<line x1="481.75" y1="396.2" x2="481.75" y2="398.4" stroke="#333" stroke-width="0.9"/>
<text x="390.6" y="408.8" font-size="9">10<tspan font-size="6" dy="-2.9">0</tspan></text>
<text x="418.7" y="408.8" font-size="9">10<tspan font-size="6" dy="-2.9">1</tspan></text>
<text x="447.6" y="408.8" font-size="9">10<tspan font-size="6" dy="-2.9">2</tspan></text>
<text x="475.4" y="408.8" font-size="9">10<tspan font-size="6" dy="-2.9">3</tspan></text>
<text x="502.4" y="408.8" font-size="9">10<tspan font-size="6" dy="-2.9">4</tspan></text>
<text x="454.3" y="423" font-size="12.5" text-anchor="middle">Gr-1 FITC</text>
<path d="M333.0 316.8L333.8 314.9L334.7 313.2L335.7 311.6L337.0 310.3L337.9 308.8L339.0 307.6L339.7 306.1L341.2 305.2L342.5 304.3L343.8 303.4L345.2 302.8L346.6 302.3L348.0 301.8L349.4 301.3L350.8 301.1L352.1 300.6L353.6 300.5L355.0 300.3L356.5 300.2L357.9 300.5L359.2 301.0L360.6 301.5L361.8 302.2L362.9 303.1L363.6 304.5L364.3 305.7L364.9 306.9L365.2 308.2L365.7 309.3L366.2 310.3L366.6 311.4L367.0 312.4L367.4 313.5L367.2 314.6L367.8 315.7L367.6 316.8L367.5 317.9L367.7 319.0L367.6 320.2L367.2 321.2L366.9 322.4L366.8 323.6L366.6 324.9L366.5 326.5L366.2 328.0L365.9 329.8L365.5 331.8L364.9 334.0L364.2 336.4L363.3 339.5L362.0 342.8L360.4 347.2L358.0 351.2L355.0 352.9L351.8 352.9L348.7 352.5L345.9 350.9L343.6 348.2L341.7 345.3L340.0 342.8L338.1 341.0L336.6 338.8L335.0 336.8L333.7 334.6L332.8 332.4L332.5 329.8L332.0 327.5L331.9 325.2L332.1 322.9L332.1 320.8L332.8 318.7Z M334.2 316.8L335.0 315.1L335.9 313.4L337.0 312.0L337.6 310.5L338.7 309.2L339.7 307.9L340.6 306.7L341.8 305.7L343.0 304.8L344.2 304.0L345.5 303.3L346.8 302.5L348.3 302.4L349.6 301.9L350.9 301.6L352.3 301.2L353.6 301.0L355.0 301.1L356.4 301.1L357.8 301.1L359.1 301.3L360.4 302.0L361.5 302.8L362.5 303.7L363.4 304.8L364.0 306.0L364.6 307.2L364.9 308.5L365.4 309.5L365.8 310.5L366.3 311.5L366.7 312.6L367.3 313.5L367.4 314.6L367.6 315.7L367.2 316.8L367.4 317.9L367.3 319.0L367.3 320.1L366.8 321.1L366.9 322.3L366.6 323.5L366.1 324.6L365.9 325.9L365.6 327.4L365.4 329.2L365.0 331.1L364.5 333.3L363.7 335.4L362.8 338.2L361.5 341.2L360.0 345.4L357.8 349.1L355.0 350.6L352.0 350.6L349.1 350.0L346.5 348.5L344.2 346.4L342.5 343.6L340.9 341.2L339.2 339.3L337.6 337.6L336.3 335.5L335.2 333.4L334.2 331.4L333.4 329.3L333.4 326.9L333.3 324.7L333.5 322.5L333.8 320.5L333.9 318.6Z M335.4 316.8L336.1 315.1L337.0 313.6L338.1 312.3L339.0 311.0L339.8 309.7L340.8 308.6L341.6 307.4L342.6 306.4L343.6 305.4L344.6 304.4L345.9 303.8L347.1 303.2L348.4 302.6L349.7 302.3L351.0 301.9L352.4 302.1L353.7 301.5L355.0 301.6L356.3 301.5L357.7 301.6L359.0 301.9L360.3 302.3L361.4 303.1L362.5 303.8L363.2 305.1L363.9 306.2L364.5 307.3L364.8 308.6L365.4 309.5L365.6 310.7L366.1 311.6L366.2 312.7L366.4 313.7L366.7 314.7L367.0 315.8L367.0 316.8L367.2 317.9L367.1 318.9L367.2 320.1L366.8 321.1L366.7 322.3L366.3 323.3L365.9 324.5L365.6 325.7L365.3 327.1L365.0 328.7L364.6 330.5L363.9 332.2L363.2 334.4L362.4 337.0L361.1 339.6L359.7 343.3L357.6 346.7L355.0 347.8L352.2 348.4L349.6 347.4L347.1 346.2L345.1 343.9L343.5 341.5L342.1 339.2L340.6 337.4L339.0 335.9L337.7 334.1L336.6 332.3L335.6 330.4L334.9 328.4L334.5 326.3L334.4 324.3L334.4 322.3L334.9 320.4L335.0 318.6Z M336.3 316.8L337.0 315.2L337.4 313.7L338.3 312.3L339.4 311.1L340.2 309.9L341.3 308.9L342.4 308.0L343.3 307.0L344.4 306.2L345.5 305.4L346.7 304.9L347.7 304.1L348.8 303.5L350.0 303.1L351.2 302.6L352.4 302.1L353.7 301.8L355.0 301.4L356.3 301.7L357.6 302.1L358.8 302.5L360.0 303.0L361.2 303.6L362.0 304.7L362.8 305.7L363.5 306.7L364.0 307.8L364.8 308.6L365.0 309.8L365.5 310.7L365.9 311.7L366.3 312.7L366.3 313.8L366.8 314.7L366.6 315.8L366.6 316.8L366.4 317.8L366.3 318.8L366.3 319.8L366.2 320.9L366.0 321.9L366.0 323.1L365.8 324.3L365.5 325.6L365.3 327.1L365.0 328.7L364.4 330.2L363.8 332.0L363.0 333.9L361.9 335.8L360.7 337.9L359.3 341.0L357.4 343.8L355.0 344.6L352.5 345.0L350.1 344.5L347.8 343.7L345.9 341.7L344.2 339.9L342.7 338.2L341.3 336.4L339.8 334.9L338.7 333.1L338.0 331.1L337.2 329.2L337.0 327.2L336.6 325.4L336.1 323.7L336.4 321.8L336.0 320.1L336.3 318.4Z M337.6 316.8L337.9 315.3L338.6 313.9L339.7 312.7L340.7 311.6L341.4 310.5L342.4 309.5L343.3 308.6L344.0 307.6L344.7 306.5L345.7 305.7L346.6 304.8L347.7 304.1L348.9 303.7L350.1 303.4L351.4 303.2L352.5 302.9L353.8 302.7L355.0 302.8L356.2 302.8L357.4 303.2L358.6 303.4L359.7 303.8L360.8 304.3L361.8 305.0L362.7 305.8L363.5 306.6L364.1 307.7L364.6 308.8L365.1 309.7L365.3 310.9L365.8 311.7L365.8 312.9L365.7 313.9L366.0 314.9L366.0 315.8L365.9 316.8L366.2 317.8L366.0 318.7L365.7 319.7L366.1 320.9L365.9 321.9L365.9 323.1L365.4 324.1L365.0 325.2L364.9 326.7L364.1 327.7L363.7 329.2L363.1 330.8L362.2 332.3L361.3 334.2L360.3 336.4L359.0 339.4L357.2 342.0L355.0 343.4L352.6 343.8L350.3 343.5L348.2 342.1L346.5 340.1L345.1 338.0L344.0 335.9L342.8 334.2L341.7 332.6L340.7 331.1L340.0 329.4L339.1 327.9L338.7 326.2L337.9 324.8L337.2 323.3L337.1 321.6L337.0 320.0L337.2 318.4Z M338.9 316.8L339.3 315.4L340.0 314.2L340.7 313.0L341.7 311.9L342.1 310.8L343.0 309.9L343.7 308.9L344.5 308.0L345.3 307.1L346.1 306.1L347.1 305.5L348.1 304.8L349.2 304.4L350.3 303.9L351.5 303.6L352.7 303.5L353.8 303.6L355.0 303.2L356.2 303.2L357.4 303.3L358.6 303.5L359.7 304.0L360.7 304.5L361.7 305.2L362.7 305.8L363.3 307.0L363.7 308.1L364.1 309.2L364.5 310.2L364.9 311.1L365.0 312.1L365.1 313.1L365.5 314.0L365.7 314.9L365.8 315.9L365.9 316.8L366.1 317.8L366.0 318.7L366.0 319.8L365.7 320.7L365.8 321.8L365.4 322.8L365.3 324.0L364.5 324.8L364.3 326.1L363.9 327.4L363.2 328.5L362.6 330.0L361.9 331.5L361.0 333.3L359.9 335.0L358.7 337.5L357.0 339.9L355.0 340.8L352.9 340.8L350.9 340.2L349.0 339.1L347.4 337.5L346.3 335.4L345.2 333.8L344.0 332.6L342.9 331.2L341.9 329.9L340.9 328.7L340.0 327.3L339.4 325.8L338.7 324.4L338.6 322.8L338.2 321.3L338.5 319.7L338.6 318.2Z M340.2 316.8L340.6 315.5L341.1 314.3L341.8 313.3L342.4 312.2L343.0 311.2L343.8 310.3L344.4 309.4L345.1 308.5L345.7 307.5L346.5 306.7L347.4 306.0L348.5 305.5L349.5 305.1L350.5 304.6L351.7 304.4L352.7 304.0L353.9 303.8L355.0 303.9L356.1 303.8L357.3 303.8L358.5 303.8L359.6 304.1L360.6 304.8L361.5 305.5L362.2 306.6L363.0 307.3L363.5 308.3L363.8 309.4L364.3 310.3L364.3 311.4L364.7 312.3L364.9 313.2L364.9 314.1L365.3 315.0L365.5 315.9L365.3 316.8L365.4 317.7L365.7 318.7L365.6 319.6L365.3 320.6L365.2 321.6L365.0 322.6L364.7 323.6L364.4 324.7L363.9 325.7L363.5 326.9L362.9 328.1L362.2 329.3L361.5 330.7L360.6 332.2L359.5 333.7L358.3 335.5L356.8 337.6L355.0 338.1L353.1 338.3L351.3 337.6L349.7 336.6L348.3 335.2L347.1 333.7L346.1 332.2L345.1 331.0L344.0 329.9L343.1 328.7L342.2 327.6L341.4 326.3L340.7 325.1L340.0 323.8L339.9 322.3L339.7 320.9L339.7 319.5L339.7 318.1Z M341.9 316.8L342.2 315.7L342.6 314.6L343.1 313.6L343.6 312.7L344.0 311.6L344.3 310.6L345.0 309.8L345.6 308.9L346.2 308.0L347.1 307.4L347.9 306.6L348.8 306.0L349.7 305.4L350.7 305.0L351.8 304.8L352.8 304.2L353.9 303.8L355.0 303.9L356.1 303.8L357.3 304.0L358.4 304.3L359.3 305.0L360.4 305.3L361.1 306.3L361.9 307.0L362.4 308.0L362.8 309.0L363.2 309.9L363.7 310.7L363.8 311.7L364.2 312.5L364.5 313.3L364.7 314.2L365.4 315.0L365.5 315.9L365.6 316.8L365.8 317.7L365.5 318.7L365.5 319.6L365.5 320.6L365.1 321.5L364.5 322.3L364.0 323.1L363.8 324.2L363.5 325.3L362.9 326.2L362.3 327.3L361.7 328.4L360.9 329.3L360.0 330.6L359.0 331.9L357.9 333.3L356.6 334.5L355.0 334.9L353.4 335.0L351.9 334.5L350.4 334.1L349.0 333.3L348.0 331.8L347.0 330.7L345.8 330.0L344.7 329.1L343.6 328.2L342.8 327.0L342.3 325.7L341.8 324.4L341.3 323.2L341.4 321.7L341.2 320.5L341.5 319.2L341.5 318.0Z M343.0 316.8L343.3 315.8L343.4 314.8L343.8 313.8L344.2 312.9L344.6 311.9L345.2 311.2L345.8 310.4L346.4 309.6L347.0 308.8L347.6 308.0L348.4 307.4L349.1 306.5L349.9 306.0L350.8 305.4L351.8 305.0L352.8 304.4L353.9 304.1L355.0 304.3L356.1 304.1L357.2 304.3L358.2 305.0L359.1 305.5L360.0 306.0L360.7 306.9L361.2 307.9L361.9 308.6L362.4 309.4L362.9 310.2L363.2 311.1L363.9 311.6L364.2 312.5L364.6 313.3L364.9 314.2L365.2 315.0L365.2 315.9L365.1 316.8L365.3 317.7L365.3 318.6L364.9 319.5L365.0 320.4L364.6 321.3L364.3 322.2L364.2 323.3L363.6 324.0L363.3 325.1L362.6 325.9L362.0 326.9L361.2 327.5L360.4 328.3L359.5 329.3L358.5 329.9L357.5 330.8L356.3 331.6L355.0 332.0L353.7 332.0L352.3 331.9L351.0 331.8L349.8 331.1L348.7 330.4L347.6 329.7L346.5 328.9L345.6 328.0L344.7 327.1L344.2 325.9L343.7 324.7L343.5 323.5L343.3 322.3L343.3 321.1L343.1 320.0L343.3 318.9L343.1 317.8Z M344.6 316.8L344.9 315.9L344.9 315.0L345.1 314.2L345.1 313.2L345.4 312.3L345.5 311.3L345.7 310.3L346.2 309.5L346.7 308.5L347.5 307.9L348.3 307.3L349.1 306.6L350.0 306.1L351.1 306.1L352.0 305.8L353.1 305.8L354.0 305.6L355.0 305.5L356.0 305.7L356.9 305.9L357.8 306.2L358.8 306.4L359.7 306.7L360.5 307.3L361.2 308.0L361.7 308.8L362.5 309.3L362.9 310.2L363.3 311.0L363.8 311.7L363.9 312.7L364.5 313.4L364.8 314.2L365.1 315.0L365.3 315.9L365.3 316.8L365.0 317.7L365.1 318.6L364.9 319.4L364.5 320.3L364.0 321.0L363.5 321.7L363.3 322.6L362.7 323.3L362.2 324.0L361.5 324.6L361.2 325.7L360.3 326.0L359.8 327.1L359.2 328.3L358.2 328.8L357.3 329.7L356.2 330.3L355.0 330.9L353.8 330.6L352.6 330.5L351.4 330.1L350.5 329.3L349.5 328.7L348.7 327.7L347.9 327.0L347.1 326.2L346.5 325.3L345.9 324.5L345.3 323.6L345.1 322.5L344.9 321.5L344.7 320.5L344.7 319.6L344.5 318.6L344.7 317.7Z M458.8 318.1L460.2 316.1L461.6 314.4L462.8 312.8L463.9 311.3L465.2 309.9L466.4 308.7L467.3 307.3L468.6 306.3L470.0 305.4L471.4 304.6L472.9 304.1L474.2 303.4L475.6 302.8L476.9 302.1L478.4 302.0L479.8 301.4L481.2 300.7L482.7 300.4L484.3 300.3L485.8 300.4L487.3 300.9L488.7 301.5L490.2 302.1L491.5 302.9L492.6 304.0L493.9 304.8L494.6 306.2L495.5 307.4L496.4 308.5L496.4 310.2L496.8 311.5L496.8 313.0L497.0 314.3L497.0 315.6L497.1 316.8L497.2 318.1L497.2 319.4L497.0 320.6L496.8 321.9L496.2 323.0L496.1 324.3L495.6 325.5L495.3 326.9L494.7 328.1L494.3 329.7L494.0 331.5L493.4 333.4L492.8 335.6L492.1 338.2L491.3 341.6L490.3 346.5L488.6 351.3L485.8 353.4L482.7 353.9L479.6 353.2L476.8 351.5L474.1 350.2L471.5 348.9L468.7 348.1L466.0 347.0L463.3 345.8L460.8 344.2L458.5 342.3L456.6 340.0L455.1 337.4L454.1 334.6L453.7 331.6L454.1 328.5L454.4 325.7L455.8 322.8L457.2 320.3Z M459.5 318.1L461.0 316.2L462.2 314.5L463.7 313.0L464.8 311.6L466.5 310.6L467.5 309.3L468.5 308.1L469.7 307.2L470.8 306.2L472.0 305.4L473.0 304.3L474.5 303.8L475.6 302.9L477.0 302.4L478.4 301.9L479.8 301.5L481.2 301.5L482.7 301.3L484.2 301.3L485.6 301.8L487.0 301.9L488.3 302.6L489.7 303.1L490.9 303.8L492.3 304.4L493.4 305.3L494.5 306.3L495.3 307.6L496.0 308.8L496.2 310.3L496.1 311.9L496.4 313.1L496.3 314.5L496.2 315.7L496.5 316.9L496.1 318.1L495.9 319.3L496.0 320.4L496.0 321.7L495.8 322.9L495.7 324.2L495.4 325.4L494.9 326.6L494.5 328.0L494.1 329.5L493.4 330.9L492.8 332.6L492.2 334.6L491.5 336.9L490.5 339.6L489.6 344.0L488.1 348.5L485.6 350.8L482.7 351.6L479.8 351.5L477.1 350.0L474.5 348.7L471.9 347.7L469.5 346.4L466.9 345.4L464.6 344.0L462.7 342.0L460.8 340.0L459.1 337.9L457.9 335.5L456.9 333.0L456.2 330.5L456.1 327.8L456.3 325.2L457.1 322.6L458.0 320.3Z M461.3 318.1L462.2 316.3L463.3 314.7L464.4 313.2L465.3 311.8L466.8 310.7L468.0 309.6L469.0 308.5L470.2 307.6L471.6 307.0L472.6 306.0L473.8 305.5L474.9 304.5L476.1 303.9L477.3 303.3L478.5 302.5L479.9 302.0L481.3 301.7L482.7 301.1L484.2 301.4L485.6 301.6L486.9 302.4L488.1 303.3L489.3 304.0L490.5 304.6L491.7 305.3L492.8 306.0L493.7 307.1L494.6 308.1L495.2 309.3L495.8 310.5L496.1 311.8L496.0 313.3L496.4 314.4L496.2 315.7L496.2 316.9L495.6 318.1L495.4 319.2L495.2 320.3L494.9 321.4L494.7 322.5L494.6 323.6L494.6 325.0L494.4 326.3L494.2 327.8L493.7 329.1L493.2 330.6L492.8 332.5L492.1 334.3L491.2 336.4L490.3 339.0L489.2 342.4L487.6 346.2L485.3 347.7L482.7 348.3L480.1 348.1L477.6 347.1L475.2 346.2L472.8 345.3L470.3 344.8L467.7 344.0L465.6 342.6L463.6 340.9L461.7 339.1L460.6 336.6L459.9 334.1L459.3 331.6L458.7 329.3L459.1 326.7L459.2 324.4L459.6 322.2L460.5 320.0Z M463.2 318.1L464.1 316.5L464.9 315.0L465.7 313.5L466.6 312.2L467.4 311.0L468.6 309.9L469.7 309.0L470.7 308.0L471.9 307.3L473.1 306.7L474.3 306.1L475.4 305.5L476.5 304.8L477.7 304.3L478.8 303.7L480.0 302.7L481.3 302.4L482.7 302.2L484.1 302.1L485.5 302.0L486.8 302.7L488.2 303.1L489.3 303.9L490.5 304.6L491.3 305.8L492.4 306.6L493.0 307.8L493.8 308.8L494.5 309.8L494.9 311.0L494.9 312.4L495.4 313.5L495.5 314.7L495.5 315.8L495.4 317.0L495.3 318.1L495.1 319.2L495.0 320.3L494.7 321.3L494.5 322.4L494.2 323.5L493.7 324.5L493.6 325.7L493.5 327.2L492.9 328.3L492.7 330.0L492.2 331.6L491.6 333.4L490.9 335.6L490.0 338.2L489.0 341.5L487.4 344.7L485.2 346.2L482.7 346.0L480.3 345.7L478.0 344.5L475.9 343.3L473.8 342.6L471.6 341.9L469.2 341.4L467.2 340.2L465.3 338.8L463.5 337.3L462.2 335.3L461.2 333.2L460.4 331.0L460.2 328.6L460.3 326.2L460.6 324.0L461.7 321.8L462.3 319.9Z M465.0 318.1L466.1 316.6L466.6 315.3L467.3 314.0L468.0 312.8L468.7 311.6L469.6 310.5L470.2 309.3L471.0 308.3L472.2 307.6L473.1 306.7L474.3 306.1L475.5 305.6L476.7 305.3L477.7 304.4L478.9 304.0L480.2 303.7L481.4 303.3L482.7 303.2L484.0 302.9L485.3 303.1L486.6 303.5L487.8 304.1L488.8 304.9L489.9 305.7L490.9 306.3L491.6 307.4L492.6 308.2L493.3 309.2L493.7 310.4L494.3 311.4L494.5 312.6L494.9 313.7L494.9 314.8L495.1 315.9L495.2 317.0L495.4 318.1L495.1 319.2L494.8 320.2L494.3 321.2L494.2 322.3L493.7 323.2L493.4 324.3L493.1 325.3L492.7 326.5L492.3 327.7L491.9 329.0L491.4 330.5L490.9 332.4L490.1 334.0L489.4 336.4L488.5 339.6L487.0 342.5L485.0 344.0L482.7 344.3L480.4 344.0L478.3 342.9L476.4 341.6L474.4 341.0L472.3 340.3L470.2 339.7L468.3 338.6L466.5 337.4L465.0 335.8L464.0 333.8L463.1 331.8L462.7 329.7L462.0 327.7L462.4 325.5L462.9 323.4L463.8 321.4L464.5 319.7Z M466.2 318.1L467.2 316.7L467.7 315.5L468.8 314.4L469.7 313.4L470.2 312.3L470.9 311.3L471.5 310.3L472.2 309.3L473.1 308.5L473.8 307.5L474.7 306.7L475.8 306.1L476.7 305.2L477.8 304.6L479.1 304.6L480.2 304.0L481.4 303.5L482.7 303.3L484.0 303.2L485.2 303.8L486.4 304.1L487.6 304.6L488.8 305.1L489.7 305.9L490.7 306.6L491.6 307.5L492.3 308.5L492.6 309.8L493.1 310.8L493.4 311.9L493.5 313.1L493.8 314.1L493.8 315.1L494.1 316.1L494.0 317.1L494.4 318.1L494.5 319.1L494.2 320.1L494.2 321.2L494.1 322.2L493.7 323.2L493.5 324.3L493.1 325.4L492.5 326.3L492.1 327.5L491.6 328.7L491.0 329.9L490.3 331.2L489.7 333.1L488.7 334.7L487.9 337.4L486.6 340.1L484.7 341.3L482.7 341.3L480.7 341.1L478.8 340.3L477.0 339.3L475.2 338.6L473.5 337.9L471.7 337.1L470.1 336.2L468.4 335.1L467.0 333.8L466.0 332.1L464.6 330.8L464.1 328.8L463.5 327.1L463.7 325.0L463.9 323.1L464.6 321.3L465.1 319.6Z M468.2 318.1L468.6 316.9L469.2 315.7L469.7 314.6L470.2 313.6L470.6 312.5L471.4 311.5L472.2 310.7L472.7 309.7L473.5 308.9L474.3 308.1L475.3 307.5L476.1 306.7L477.0 305.8L478.1 305.4L479.1 304.8L480.2 304.2L481.5 303.9L482.7 303.6L484.0 303.7L485.2 304.0L486.4 304.4L487.4 305.3L488.3 306.1L489.2 306.9L489.9 307.7L490.7 308.6L491.4 309.4L492.1 310.2L492.3 311.4L492.9 312.2L493.0 313.3L493.6 314.1L493.9 315.1L493.9 316.1L493.9 317.1L493.8 318.1L493.7 319.1L493.8 320.1L493.7 321.0L493.1 321.9L493.2 323.0L492.7 323.9L492.2 324.8L492.1 326.0L491.7 327.1L491.2 328.3L490.6 329.4L490.1 330.9L489.2 332.0L488.3 333.6L487.4 335.6L486.1 337.3L484.4 338.0L482.7 338.2L480.9 338.1L479.2 337.7L477.7 336.9L476.0 336.6L474.1 336.5L472.6 335.6L470.8 335.0L469.4 333.9L468.2 332.6L467.4 330.9L466.6 329.4L466.4 327.5L466.0 325.9L466.4 324.0L466.6 322.4L467.2 320.8L467.6 319.4Z M469.5 318.1L469.9 317.0L469.9 315.9L470.4 314.8L470.7 313.7L471.2 312.7L471.5 311.6L472.4 310.9L473.0 310.0L473.8 309.2L474.6 308.4L475.5 307.8L476.4 307.2L477.4 306.8L478.5 306.5L479.5 306.0L480.5 305.6L481.6 305.6L482.7 304.9L483.8 305.1L485.0 305.2L486.1 305.4L487.1 305.9L488.0 306.7L489.0 307.2L489.9 307.8L490.6 308.6L491.3 309.5L491.7 310.5L492.2 311.4L492.8 312.3L493.1 313.2L493.2 314.3L493.2 315.3L493.2 316.2L493.6 317.1L493.2 318.1L493.3 319.0L493.1 319.9L493.1 320.9L492.4 321.6L492.1 322.5L491.8 323.4L491.5 324.3L491.3 325.3L490.9 326.3L490.4 327.3L489.9 328.4L489.5 329.9L488.8 331.2L488.1 332.9L487.1 334.5L485.9 336.4L484.4 337.0L482.7 337.1L481.0 337.1L479.5 336.2L478.1 335.4L476.6 334.8L475.3 334.0L473.9 333.3L472.7 332.4L471.4 331.6L470.5 330.3L469.7 329.0L469.1 327.6L468.8 326.1L468.6 324.7L468.8 323.2L468.7 321.9L468.9 320.5L469.3 319.3Z M470.9 318.1L471.4 317.1L471.7 316.2L472.0 315.2L472.2 314.3L472.9 313.5L473.3 312.7L473.8 311.8L473.9 310.7L474.5 309.9L475.1 309.1L475.6 308.0L476.5 307.4L477.5 306.9L478.3 306.1L479.4 305.7L480.4 305.0L481.6 305.3L482.7 305.2L483.8 305.6L484.8 306.0L485.8 306.5L486.7 307.1L487.5 307.7L488.3 308.4L489.1 308.9L489.8 309.6L490.5 310.3L491.2 311.0L491.7 311.8L492.1 312.7L492.3 313.6L492.7 314.4L492.5 315.5L492.6 316.4L492.8 317.2L492.6 318.1L492.7 319.0L492.7 319.9L492.5 320.7L492.3 321.6L492.3 322.6L492.0 323.4L491.5 324.3L491.0 325.1L490.6 326.0L489.9 326.7L489.3 327.6L488.6 328.4L488.0 329.4L487.2 330.5L486.3 331.6L485.3 332.9L484.1 333.7L482.7 334.1L481.3 334.3L479.9 334.2L478.5 333.9L477.1 333.4L475.9 332.7L474.9 331.6L473.6 331.1L472.7 330.0L472.0 328.8L471.5 327.5L471.0 326.3L470.5 325.1L470.5 323.8L470.2 322.6L470.3 321.4L470.4 320.3L470.7 319.1Z M472.1 318.1L472.4 317.2L472.8 316.3L472.9 315.5L473.3 314.7L473.2 313.7L473.8 313.0L474.2 312.2L474.8 311.5L475.4 310.8L475.8 309.9L476.6 309.4L477.3 308.7L478.0 308.0L478.8 307.4L479.7 307.0L480.7 306.5L481.7 306.2L482.7 305.9L483.8 305.5L484.8 305.9L485.9 306.1L486.8 306.7L487.7 307.3L488.6 307.8L489.3 308.7L489.8 309.6L490.2 310.6L490.5 311.5L490.8 312.4L491.0 313.3L491.4 314.0L491.6 314.8L491.7 315.7L491.7 316.5L491.7 317.3L491.9 318.1L491.9 318.9L491.6 319.7L491.9 320.6L491.6 321.3L491.4 322.2L491.1 323.0L490.9 323.8L490.7 324.8L490.2 325.6L489.9 326.6L489.4 327.7L488.8 328.7L488.0 329.5L487.1 330.3L486.2 331.1L485.1 331.9L483.9 332.1L482.7 331.8L481.5 331.6L480.4 331.0L479.4 330.3L478.5 329.8L477.4 329.4L476.4 328.9L475.6 328.3L474.8 327.5L474.1 326.7L473.3 326.0L472.8 325.1L472.5 324.0L472.0 323.1L472.0 322.0L471.7 321.0L471.8 320.0L471.9 319.0Z M344.7 350.0L344.4 351.0L344.0 352.5L343.5 354.3L343.0 356.0L342.8 357.7L342.8 359.2L343.1 360.6L343.3 362.1L343.5 363.7L343.5 365.4L343.1 367.4L342.4 369.7L341.7 372.0L341.0 374.2L340.8 376.2L341.0 377.8L341.5 379.2L342.2 380.4L342.9 381.6L343.5 383.0L344.1 384.5L344.7 386.2L345.3 387.8L345.8 389.4L346.2 390.8L346.4 392.1L346.5 393.3L346.5 394.4L346.4 395.3L346.4 396.0 M358.9 350.0L358.8 351.0L358.5 352.5L358.3 354.3L358.0 356.0L357.8 357.7L357.5 359.2L357.2 360.8L356.9 362.3L356.7 363.9L356.6 365.4L356.6 366.9L356.8 368.4L357.0 370.0L357.2 371.5L357.4 373.0L357.6 374.4L357.8 375.8L357.9 377.1L358.1 378.8L358.2 380.8L358.3 383.6L358.3 387.1L358.3 390.7L358.3 393.8L358.3 396.0 M348.5 363.8L348.0 364.3L347.7 364.9L347.5 365.6L347.3 366.5L347.0 367.7L346.6 369.3L346.2 371.2L345.7 373.3L345.5 375.2L345.5 376.9L345.9 378.2L346.5 379.3L347.3 380.2L348.2 381.1L349.0 382.0L349.8 383.1L350.6 384.2L351.4 385.3L352.1 386.0L352.8 386.2L353.4 385.8L353.9 384.9L354.3 383.7L354.7 382.3L355.0 380.8L355.3 379.2L355.5 377.4L355.6 375.5L355.7 373.7L355.8 372.0L355.9 370.5L356.0 369.0L356.1 367.6L356.0 366.4L355.8 365.4L355.4 364.6L354.9 364.0L354.2 363.5L353.5 363.2L352.8 363.0L352.0 362.9L351.0 362.9L350.1 363.1L349.2 363.4Z M352.4 366.1L352.9 366.2L353.4 366.5L353.9 366.9L354.3 367.5L354.6 368.0L354.8 368.6L354.9 369.4L355.0 370.2L355.0 370.9L354.8 371.5L354.5 372.0L354.0 372.4L353.5 372.8L352.9 373.0L352.4 373.1L351.9 373.0L351.4 372.8L350.9 372.4L350.5 372.0L350.2 371.5L350.0 370.9L349.9 370.2L349.9 369.4L349.9 368.6L350.1 368.0L350.4 367.5L350.9 366.9L351.4 366.5L351.9 366.2Z M348.2 396.0L348.4 395.3L348.5 394.2L348.8 393.1L349.1 391.9L349.5 391.0L350.0 390.3L350.5 389.6L351.2 389.1L351.8 388.7L352.4 388.6L353.0 388.7L353.6 389.1L354.3 389.6L354.8 390.3L355.3 391.0L355.7 391.9L356.0 393.1L356.3 394.2L356.4 395.3L356.6 396.0 M350.2 396.0L350.3 395.6L350.4 395.0L350.6 394.3L350.8 393.7L351.0 393.2L351.2 392.9L351.5 392.6L351.8 392.4L352.1 392.2L352.4 392.2L352.7 392.2L353.0 392.4L353.3 392.6L353.6 392.9L353.8 393.2L354.0 393.7L354.2 394.3L354.4 395.0L354.5 395.6L354.6 396.0 M459.3 354.0L459.0 354.8L458.6 356.0L458.1 357.4L457.7 358.7L457.4 360.0L457.3 361.1L457.3 362.1L457.4 363.2L457.5 364.2L457.8 365.4L458.2 366.7L458.7 368.0L459.2 369.4L459.9 370.8L460.5 372.3L461.2 373.8L462.0 375.4L462.8 376.9L463.6 378.5L464.3 380.0L464.9 381.5L465.5 383.1L466.1 384.6L466.7 385.9L467.4 386.9L468.2 387.6L469.1 388.0L470.1 388.3L471.1 388.4L472.0 388.5L473.0 388.5L474.0 388.3L474.9 388.1L475.8 388.0L476.6 388.1L477.2 388.5L477.7 389.2L478.1 390.0L478.5 390.6L478.9 390.8L479.3 390.6L479.6 390.0L479.9 389.2L480.3 388.4L480.8 387.7L481.4 387.1L482.1 386.5L482.9 385.9L483.6 385.3L484.3 384.6L484.9 383.8L485.5 383.0L486.1 382.1L486.6 381.1L487.0 380.0L487.2 378.8L487.4 377.4L487.4 376.0L487.4 374.5L487.4 373.0L487.3 371.5L487.2 369.9L487.0 368.4L486.8 366.8L486.6 365.4L486.4 364.1L486.3 362.8L486.1 361.5L485.9 360.4L485.8 359.2L485.7 358.0L485.6 356.8L485.6 355.7L485.5 354.7L485.5 354.0 M461.2 361.5L461.3 362.4L461.6 363.5L462.0 364.9L462.4 366.3L462.8 367.7L463.2 369.2L463.6 370.8L464.0 372.4L464.5 374.0L465.1 375.4L465.7 376.7L466.4 377.9L467.1 379.0L468.0 380.0L468.9 380.8L470.0 381.4L471.2 381.8L472.5 382.1L473.8 382.2L475.1 382.3L476.4 382.3L477.7 382.3L478.9 382.1L480.1 381.8L481.2 381.5L482.2 381.1L483.1 380.7L483.9 380.1L484.6 379.4L485.1 378.5L485.4 377.3L485.4 375.8L485.3 374.2L485.2 372.5L485.1 370.8L485.1 369.1L485.0 367.3L485.0 365.5L484.9 363.8L484.7 362.3L484.5 361.0L484.2 359.7L483.8 358.6L483.4 357.7L482.8 356.9L482.1 356.3L481.3 355.9L480.3 355.6L479.3 355.5L478.2 355.4L476.9 355.4L475.5 355.4L473.9 355.6L472.5 355.8L471.2 356.2L470.1 356.8L469.1 357.7L468.3 358.6L467.4 359.4L466.6 360.0L465.8 360.3L464.9 360.5L464.1 360.5L463.4 360.5L462.8 360.6L462.3 360.7L461.8 360.7L461.5 360.7L461.3 361.0Z M470.5 361.5L469.9 362.2L469.5 362.9L469.1 363.8L468.9 364.6L468.9 365.4L469.1 366.1L469.7 366.9L470.3 367.6L470.7 368.3L470.8 369.2L470.4 370.2L469.6 371.4L468.7 372.5L467.9 373.6L467.4 374.6L467.2 375.4L467.2 376.1L467.3 376.7L467.6 377.2L468.2 377.7L469.1 378.2L470.3 378.7L471.7 379.1L473.1 379.4L474.3 379.6L475.3 379.7L476.3 379.6L477.3 379.4L478.1 379.2L478.9 378.8L479.6 378.4L480.2 377.9L480.8 377.4L481.3 376.5L481.6 375.4L481.8 373.7L481.9 371.6L481.9 369.3L481.8 367.2L481.6 365.4L481.4 364.1L481.1 363.0L480.7 362.1L480.3 361.4L479.7 360.8L479.0 360.3L478.1 359.9L477.1 359.7L476.1 359.6L475.1 359.6L474.1 359.7L473.1 360.0L472.1 360.4L471.2 360.9Z M475.1 367.7L475.6 367.7L476.2 367.9L476.8 368.2L477.2 368.5L477.6 369.0L477.9 369.6L478.0 370.3L478.1 371.0L478.1 371.8L477.9 372.5L477.5 373.2L477.0 373.9L476.4 374.5L475.7 375.0L475.1 375.3L474.5 375.3L473.9 375.0L473.4 374.6L472.9 374.1L472.5 373.5L472.3 372.8L472.1 372.0L472.1 371.0L472.2 370.2L472.4 369.5L472.8 368.9L473.3 368.5L473.9 368.1L474.5 367.8Z" fill="none" stroke="#2e2e2e" stroke-width="0.62" stroke-linejoin="round"/>
<ellipse cx="355" cy="316.8" rx="8.5" ry="10" fill="#2a2a2a" fill-opacity="0.45"/>
<ellipse cx="482.9" cy="318.4" rx="8" ry="10.5" fill="#2a2a2a" fill-opacity="0.45"/>
<path d="M346.3 316.8L346.3 316.0L346.2 315.2L346.4 314.5L346.4 313.7L346.4 312.8L346.8 312.1L347.0 311.2L347.4 310.4L347.7 309.5L348.3 308.8L348.8 307.9L349.5 307.2L350.2 306.5L351.0 305.8L352.0 305.5L352.9 305.1L354.0 305.0L355.0 305.0L356.0 305.1L357.0 305.5L358.0 305.6L358.9 306.0L359.7 306.7L360.4 307.5L361.2 308.0L361.6 308.9L362.0 309.8L362.4 310.6L362.7 311.4L363.0 312.2L363.5 312.9L363.4 313.7L363.5 314.5L363.6 315.3L363.7 316.0L363.6 316.8L363.8 317.6L363.8 318.4L363.7 319.1L363.7 320.0L363.3 320.7L363.1 321.5L363.1 322.5L362.8 323.3L362.2 324.0L361.8 324.9L361.2 325.7L360.6 326.5L359.8 327.1L358.9 327.6L358.0 328.1L357.1 328.4L356.0 328.6L355.0 328.5L354.0 328.3L353.0 328.2L352.1 327.8L351.1 327.5L350.3 326.9L349.6 326.2L349.0 325.4L348.4 324.7L347.8 324.0L347.6 323.0L347.1 322.3L346.9 321.5L346.7 320.7L346.4 319.9L346.5 319.1L346.3 318.3L346.4 317.6Z M346.2 316.8L346.2 316.0L346.5 315.3L346.7 314.6L347.0 313.9L347.1 313.1L347.4 312.4L347.8 311.8L348.1 311.0L348.6 310.4L349.0 309.6L349.7 309.2L350.3 308.7L350.8 307.8L351.6 307.5L352.4 307.1L353.2 306.6L354.1 306.4L355.0 306.1L355.9 306.1L356.9 305.9L357.9 306.1L358.7 306.6L359.6 307.0L360.4 307.4L361.1 308.2L361.8 308.7L362.4 309.4L362.8 310.2L363.2 311.0L363.6 311.8L363.9 312.6L364.1 313.5L364.0 314.4L364.1 315.2L363.9 316.0L363.9 316.8L363.6 317.6L363.6 318.3L363.2 319.0L363.0 319.7L362.8 320.4L362.5 321.2L362.0 321.7L361.7 322.4L361.3 323.1L360.9 323.8L360.3 324.4L359.8 325.0L359.1 325.6L358.5 326.3L357.6 326.7L356.8 326.9L355.9 327.1L355.0 327.5L354.0 327.7L353.1 327.6L352.1 327.5L351.3 327.1L350.4 326.6L349.5 326.3L348.8 325.6L348.1 325.0L347.7 324.1L347.1 323.4L346.8 322.6L346.4 321.8L346.3 320.9L346.1 320.0L346.0 319.2L345.9 318.4L346.0 317.6Z M345.8 316.8L345.8 316.0L345.6 315.1L346.1 314.4L346.3 313.6L346.4 312.8L346.8 312.0L347.3 311.4L347.7 310.7L348.3 310.1L348.9 309.5L349.6 309.1L350.2 308.6L351.0 308.3L351.8 307.9L352.6 307.9L353.4 307.6L354.2 307.7L355.0 307.7L355.8 307.6L356.6 307.9L357.4 307.9L358.1 308.3L358.9 308.4L359.5 308.9L360.1 309.4L360.9 309.8L361.5 310.3L361.9 311.0L362.5 311.5L363.1 312.1L363.4 312.9L363.7 313.7L363.9 314.4L364.2 315.2L364.1 316.0L364.0 316.8L364.2 317.6L364.1 318.4L364.2 319.3L363.8 320.0L363.4 320.7L363.0 321.4L362.7 322.2L362.1 322.8L361.6 323.4L361.0 324.0L360.4 324.5L359.7 324.9L359.0 325.3L358.2 325.7L357.5 326.0L356.6 325.8L355.8 326.3L355.0 326.0L354.2 326.1L353.4 325.8L352.6 325.7L351.9 325.4L351.1 325.1L350.4 324.8L349.7 324.3L349.2 323.7L348.6 323.2L348.0 322.7L347.5 322.1L347.1 321.4L346.7 320.7L346.4 319.9L346.2 319.2L346.0 318.4L345.6 317.6Z M346.9 316.8L347.1 316.1L347.1 315.4L347.2 314.7L347.7 314.1L347.9 313.5L348.3 312.9L348.4 312.2L348.8 311.6L349.3 311.1L349.6 310.4L350.2 309.9L350.7 309.3L351.3 308.8L352.0 308.4L352.6 308.0L353.4 307.5L354.2 307.3L355.0 307.2L355.9 306.9L356.7 307.1L357.5 307.3L358.4 307.6L359.2 307.8L360.0 308.2L360.6 308.8L361.2 309.4L361.6 310.2L362.1 310.8L362.5 311.6L362.8 312.3L363.0 313.0L362.9 313.9L363.5 314.5L363.1 315.4L363.2 316.1L363.2 316.8L363.0 317.5L362.8 318.2L362.3 318.8L362.2 319.4L362.2 320.1L361.7 320.7L361.4 321.3L360.9 321.8L360.8 322.6L360.3 323.1L359.8 323.6L359.3 324.2L358.7 324.7L358.0 325.1L357.4 325.6L356.6 326.0L355.8 326.3L355.0 326.6L354.1 326.5L353.3 326.4L352.4 326.4L351.6 326.0L350.9 325.6L350.0 325.4L349.4 324.7L348.8 324.2L348.3 323.5L347.9 322.7L347.4 322.1L347.2 321.3L347.0 320.5L346.8 319.8L346.9 319.0L347.0 318.2L346.9 317.5Z M346.9 316.8L346.8 316.1L346.9 315.4L346.9 314.6L346.9 313.9L347.1 313.1L347.5 312.4L347.8 311.7L348.2 311.1L348.7 310.5L349.2 309.9L349.8 309.4L350.5 309.0L351.2 308.7L352.0 308.5L352.7 308.3L353.5 308.1L354.2 307.9L355.0 308.0L355.7 308.4L356.4 308.6L357.2 308.7L357.8 309.1L358.3 309.6L359.0 309.8L359.5 310.3L360.1 310.7L360.5 311.3L361.0 311.8L361.3 312.4L361.6 313.0L362.0 313.6L362.2 314.2L362.6 314.8L362.7 315.4L362.8 316.1L363.1 316.8L363.2 317.5L363.3 318.3L363.2 319.0L362.8 319.6L362.7 320.4L362.5 321.1L362.2 321.8L361.6 322.3L361.3 323.1L360.8 323.7L360.1 324.1L359.5 324.6L358.9 325.1L358.1 325.2L357.3 325.5L356.6 325.6L355.8 325.6L355.0 325.5L354.3 325.3L353.5 325.2L352.9 324.8L352.2 324.4L351.6 324.2L351.1 323.6L350.5 323.3L349.9 322.8L349.5 322.3L349.1 321.8L348.6 321.3L348.3 320.7L348.2 320.0L347.8 319.4L347.3 318.9L347.2 318.2L347.3 317.5Z M347.7 316.8L347.7 316.2L347.6 315.5L347.6 314.8L347.6 314.1L347.9 313.5L348.0 312.7L348.1 312.0L348.7 311.5L348.9 310.7L349.4 310.1L350.0 309.6L350.6 309.2L351.3 308.9L352.0 308.6L352.7 308.2L353.5 308.1L354.2 308.0L355.0 308.1L355.7 308.3L356.4 308.7L357.1 309.1L357.7 309.3L358.3 309.7L358.8 310.2L359.2 310.8L359.7 311.2L360.0 311.8L360.5 312.2L360.7 312.8L361.1 313.3L361.4 313.8L361.6 314.4L361.9 314.9L361.9 315.6L361.9 316.2L362.4 316.8L362.5 317.5L362.5 318.1L362.4 318.8L362.4 319.5L362.2 320.2L361.9 320.8L361.7 321.5L361.4 322.2L361.0 322.8L360.6 323.5L359.9 323.8L359.4 324.3L358.8 324.9L358.0 325.0L357.2 325.2L356.5 325.3L355.8 325.4L355.0 325.5L354.3 325.3L353.5 325.0L352.9 324.6L352.2 324.4L351.7 323.9L351.2 323.3L350.7 322.9L350.3 322.4L349.8 322.0L349.5 321.4L349.2 320.9L348.7 320.4L348.7 319.7L348.5 319.2L348.1 318.7L348.0 318.0L347.9 317.4Z M348.7 316.8L348.6 316.2L348.7 315.7L348.6 315.1L348.9 314.6L349.0 314.0L349.0 313.3L349.2 312.8L349.4 312.1L349.7 311.5L350.1 311.0L350.5 310.4L351.0 309.9L351.6 309.5L352.2 309.0L352.8 308.7L353.5 308.4L354.2 308.2L355.0 308.1L355.8 308.2L356.5 308.2L357.2 308.5L357.8 309.0L358.5 309.3L359.0 309.8L359.4 310.5L359.9 311.0L360.3 311.5L360.5 312.2L360.8 312.7L360.9 313.4L361.1 313.9L361.1 314.6L361.3 315.1L361.3 315.7L361.4 316.2L361.2 316.8L361.4 317.4L361.5 317.9L361.3 318.5L361.2 319.1L361.2 319.7L360.9 320.2L360.7 320.8L360.5 321.4L360.3 322.1L360.0 322.7L359.4 323.2L359.1 323.8L358.4 324.1L357.8 324.6L357.2 325.0L356.5 325.4L355.7 325.3L355.0 325.2L354.2 325.4L353.5 325.2L352.8 324.8L352.2 324.5L351.6 324.1L351.0 323.7L350.5 323.2L350.2 322.5L349.6 322.2L349.5 321.4L349.3 320.8L349.0 320.2L348.9 319.6L348.6 319.1L348.6 318.5L348.7 317.9L348.7 317.4Z M348.1 316.8L348.1 316.2L348.3 315.6L348.3 315.0L348.7 314.5L348.9 314.0L349.1 313.4L349.7 313.1L350.0 312.6L350.2 312.0L350.7 311.7L351.2 311.3L351.6 311.0L352.2 310.7L352.7 310.4L353.3 310.3L353.8 310.2L354.4 309.8L355.0 309.9L355.6 309.9L356.3 309.7L356.9 309.8L357.4 310.1L358.0 310.3L358.6 310.6L359.1 311.0L359.7 311.2L360.1 311.7L360.5 312.2L360.9 312.6L361.3 313.2L361.6 313.7L361.8 314.3L361.7 315.0L362.0 315.6L361.8 316.2L361.8 316.8L361.9 317.4L361.7 318.0L361.5 318.6L361.5 319.1L361.0 319.6L360.7 320.1L360.5 320.6L360.2 321.2L359.7 321.5L359.2 321.8L358.8 322.2L358.3 322.6L357.9 323.1L357.3 323.3L356.8 323.5L356.2 323.7L355.6 323.7L355.0 323.8L354.4 323.9L353.8 323.7L353.2 323.7L352.5 323.6L352.0 323.2L351.4 323.1L350.8 322.8L350.3 322.4L350.0 321.8L349.5 321.4L349.0 321.0L348.7 320.4L348.6 319.8L348.3 319.2L348.0 318.7L348.1 318.0L348.0 317.4Z M348.5 316.8L348.5 316.2L348.6 315.7L348.7 315.1L348.7 314.5L349.0 314.0L349.4 313.6L349.7 313.1L349.9 312.6L350.3 312.1L350.8 311.8L351.2 311.3L351.7 311.1L352.2 310.8L352.7 310.6L353.3 310.4L353.9 310.4L354.4 310.4L355.0 310.3L355.5 310.5L356.1 310.5L356.7 310.6L357.2 310.7L357.7 311.0L358.2 311.3L358.6 311.6L359.0 312.0L359.5 312.3L359.9 312.7L360.2 313.1L360.4 313.7L360.8 314.1L360.8 314.7L361.3 315.1L361.3 315.7L361.5 316.2L361.4 316.8L361.5 317.4L361.5 317.9L361.4 318.5L361.1 319.0L361.1 319.6L360.7 320.1L360.3 320.5L360.1 321.1L359.6 321.4L359.2 321.8L358.7 322.1L358.3 322.5L357.8 322.8L357.2 322.9L356.7 323.0L356.1 323.2L355.6 323.3L355.0 323.4L354.4 323.2L353.9 323.2L353.3 323.0L352.9 322.7L352.3 322.6L351.9 322.2L351.3 322.0L350.9 321.7L350.5 321.3L350.1 320.9L349.6 320.6L349.5 320.0L349.2 319.5L348.9 319.0L348.8 318.5L348.6 317.9L348.5 317.4Z M349.2 316.8L349.5 316.3L349.6 315.9L349.6 315.4L349.8 314.9L350.2 314.5L350.3 314.1L350.6 313.7L350.8 313.3L351.2 313.0L351.5 312.6L351.7 312.1L352.1 311.8L352.5 311.5L352.9 311.1L353.4 310.9L353.9 310.8L354.5 310.6L355.0 310.2L355.6 310.4L356.1 310.3L356.7 310.5L357.3 310.6L357.8 310.8L358.3 311.1L358.8 311.4L359.1 311.9L359.5 312.3L359.9 312.7L360.2 313.1L360.5 313.6L360.6 314.2L360.6 314.8L360.8 315.2L360.8 315.8L360.6 316.3L360.8 316.8L360.7 317.3L360.7 317.8L360.2 318.2L360.0 318.6L360.0 319.1L359.6 319.4L359.4 319.9L359.1 320.3L358.8 320.6L358.5 320.9L358.2 321.4L357.9 321.9L357.5 322.2L357.1 322.5L356.6 322.6L356.1 323.0L355.6 323.1L355.0 323.3L354.4 323.1L353.9 323.3L353.3 323.0L352.7 323.0L352.2 322.8L351.8 322.4L351.2 322.2L350.7 321.9L350.4 321.4L350.0 321.0L349.9 320.4L349.7 319.9L349.5 319.4L349.3 318.9L349.1 318.4L349.2 317.8L349.2 317.3Z M350.1 316.8L350.2 316.4L350.4 316.0L350.3 315.6L350.3 315.1L350.4 314.6L350.3 314.1L350.5 313.7L350.8 313.3L351.0 312.8L351.1 312.2L351.6 312.0L351.9 311.4L352.3 311.1L352.8 310.7L353.3 310.6L353.9 310.5L354.4 310.3L355.0 310.4L355.6 310.3L356.1 310.6L356.7 310.6L357.1 311.1L357.5 311.4L357.9 311.8L358.2 312.2L358.5 312.6L358.8 313.0L359.1 313.4L359.1 313.9L359.3 314.3L359.6 314.7L359.5 315.1L359.6 315.6L359.8 315.9L359.8 316.4L359.5 316.8L359.8 317.2L359.9 317.7L359.9 318.1L359.7 318.5L359.9 319.1L359.5 319.4L359.4 319.9L359.3 320.4L359.1 320.9L358.8 321.4L358.5 321.8L358.1 322.1L357.7 322.6L357.1 322.7L356.7 323.0L356.1 323.3L355.6 323.2L355.0 323.3L354.4 323.1L353.9 323.0L353.4 322.8L352.9 322.5L352.5 322.2L352.1 321.8L351.7 321.5L351.4 321.1L351.2 320.6L350.9 320.2L350.7 319.8L350.8 319.2L350.7 318.8L350.3 318.5L350.2 318.1L350.3 317.6L350.2 317.2Z M350.7 316.8L350.5 316.4L350.7 316.0L350.4 315.6L350.6 315.2L350.6 314.7L350.6 314.2L350.7 313.8L351.0 313.5L351.2 313.0L351.6 312.7L351.8 312.3L352.2 311.9L352.5 311.5L353.0 311.4L353.5 311.1L354.0 311.0L354.5 311.0L355.0 310.9L355.5 310.9L356.0 311.2L356.5 311.3L356.9 311.5L357.2 312.0L357.7 312.1L358.0 312.5L358.3 312.9L358.5 313.3L358.6 313.8L358.8 314.2L358.9 314.6L359.0 314.9L359.1 315.3L359.4 315.6L359.5 316.0L359.3 316.4L359.5 316.8L359.3 317.2L359.4 317.6L359.4 318.0L359.3 318.4L359.4 318.8L359.3 319.3L359.1 319.7L358.9 320.1L358.7 320.5L358.5 321.0L358.2 321.3L357.8 321.7L357.4 321.9L357.0 322.3L356.5 322.5L356.0 322.7L355.5 322.8L355.0 322.7L354.5 322.5L354.0 322.3L353.5 322.2L353.1 322.1L352.7 321.8L352.5 321.1L352.1 320.9L351.8 320.6L351.6 320.2L351.4 319.9L351.2 319.5L351.1 319.1L350.9 318.7L351.0 318.3L350.8 317.9L350.8 317.5L350.5 317.2Z M350.8 316.8L350.6 316.4L350.7 316.0L350.6 315.6L350.8 315.3L350.8 314.8L350.8 314.4L350.9 313.9L351.2 313.6L351.4 313.2L351.7 312.9L352.1 312.6L352.3 312.2L352.8 312.0L353.2 311.8L353.6 311.7L354.1 311.5L354.5 311.4L355.0 311.8L355.5 311.6L355.9 311.9L356.3 312.1L356.6 312.4L357.0 312.6L357.2 313.0L357.5 313.2L357.7 313.5L358.0 313.8L358.3 314.0L358.5 314.4L358.6 314.7L358.7 315.1L358.7 315.5L359.0 315.7L359.1 316.1L359.2 316.4L359.4 316.8L359.3 317.2L359.3 317.6L359.1 317.9L359.3 318.4L359.2 318.8L359.0 319.1L359.0 319.6L358.7 319.9L358.5 320.3L358.4 320.8L358.0 321.1L357.6 321.4L357.2 321.6L356.8 321.8L356.4 321.9L355.9 322.1L355.4 321.9L355.0 322.0L354.6 321.8L354.2 321.6L353.8 321.2L353.5 321.1L353.0 321.1L352.7 320.8L352.5 320.4L352.2 320.1L351.9 319.9L351.9 319.4L351.5 319.3L351.5 318.8L351.3 318.5L351.4 318.1L350.9 317.9L350.9 317.5L350.7 317.2Z M351.2 316.8L351.3 316.5L351.3 316.2L351.2 315.8L351.3 315.5L351.5 315.2L351.8 315.0L351.9 314.6L352.0 314.3L352.2 314.0L352.4 313.8L352.7 313.5L353.0 313.3L353.2 313.0L353.5 312.6L353.9 312.7L354.2 312.4L354.6 312.2L355.0 312.3L355.4 312.2L355.8 312.3L356.2 312.3L356.6 312.5L356.9 312.6L357.3 312.8L357.6 313.0L357.9 313.3L358.0 313.8L358.5 313.9L358.5 314.3L358.6 314.7L358.7 315.1L358.8 315.4L358.7 315.8L358.8 316.1L358.8 316.5L358.8 316.8L358.6 317.1L358.7 317.5L358.6 317.8L358.4 318.1L358.4 318.4L358.2 318.7L358.0 318.9L357.9 319.3L357.7 319.5L357.5 319.8L357.3 320.1L357.2 320.6L356.8 320.6L356.5 320.9L356.1 321.0L355.8 321.3L355.4 321.3L355.0 321.3L354.6 321.3L354.2 321.5L353.8 321.4L353.4 321.1L353.0 321.0L352.6 320.9L352.3 320.7L352.2 320.2L351.9 319.9L351.6 319.7L351.5 319.2L351.4 318.9L351.3 318.5L351.3 318.1L351.2 317.8L351.1 317.5L351.3 317.1Z M351.6 316.8L351.7 316.5L351.6 316.2L351.7 315.9L351.6 315.5L351.8 315.3L351.6 314.9L352.0 314.7L352.1 314.4L352.3 314.1L352.4 313.8L352.7 313.5L353.0 313.3L353.2 313.0L353.5 312.8L353.9 312.6L354.3 312.7L354.6 312.5L355.0 312.7L355.4 312.8L355.7 312.9L356.0 312.9L356.3 313.3L356.6 313.5L356.9 313.5L357.2 313.7L357.4 314.0L357.3 314.5L357.6 314.6L357.8 314.8L357.9 315.2L357.8 315.5L358.0 315.7L358.0 316.0L358.1 316.3L358.5 316.5L358.4 316.8L358.2 317.1L358.2 317.4L358.4 317.7L358.3 318.0L358.3 318.3L358.1 318.6L358.1 318.9L358.0 319.3L357.7 319.5L357.5 319.7L357.3 320.0L357.0 320.3L356.8 320.6L356.4 320.8L356.1 320.9L355.7 321.0L355.4 320.9L355.0 321.1L354.6 321.1L354.3 320.8L354.0 320.7L353.6 320.6L353.4 320.3L353.1 320.0L352.9 319.8L352.8 319.5L352.6 319.2L352.4 319.0L352.2 318.8L352.2 318.4L352.1 318.2L351.9 317.9L351.9 317.6L351.9 317.3L351.8 317.1Z M351.7 316.8L351.8 316.5L351.6 316.2L351.8 315.9L352.0 315.7L352.0 315.4L352.0 315.1L352.2 314.8L352.5 314.7L352.7 314.5L353.0 314.4L353.2 314.2L353.4 314.0L353.7 313.9L353.8 313.6L354.2 313.9L354.4 313.6L354.7 313.5L355.0 313.5L355.3 313.4L355.5 313.8L355.8 313.8L356.1 313.8L356.4 313.9L356.6 314.1L356.8 314.2L357.1 314.3L357.2 314.6L357.4 314.8L357.8 314.9L357.9 315.1L358.0 315.4L358.0 315.7L358.1 316.0L358.1 316.3L358.1 316.5L358.2 316.8L358.4 317.1L358.2 317.4L358.1 317.6L358.0 317.9L357.9 318.1L357.9 318.5L357.5 318.6L357.5 318.9L357.2 319.0L357.0 319.2L356.8 319.3L356.7 319.7L356.4 319.7L356.2 320.1L355.8 319.8L355.5 319.9L355.3 320.1L355.0 320.1L354.7 320.0L354.5 319.8L354.1 320.0L353.9 319.9L353.6 319.7L353.4 319.5L353.1 319.5L353.0 319.2L352.7 319.1L352.6 318.9L352.3 318.7L352.2 318.4L352.1 318.2L351.9 317.9L351.8 317.6L351.8 317.4L351.8 317.1Z M352.4 316.8L352.3 316.6L352.2 316.3L352.5 316.1L352.7 315.9L352.8 315.8L352.8 315.5L353.0 315.4L353.2 315.3L353.2 315.0L353.4 314.9L353.5 314.6L353.8 314.6L353.8 314.2L354.1 314.3L354.3 314.1L354.5 314.0L354.7 313.9L355.0 313.8L355.2 314.0L355.5 314.1L355.8 313.9L356.0 314.1L356.2 314.1L356.5 314.1L356.7 314.4L356.9 314.6L357.0 314.8L357.2 314.9L357.4 315.1L357.4 315.4L357.6 315.6L357.5 315.9L357.7 316.1L357.7 316.3L357.8 316.6L357.8 316.8L357.6 317.0L357.6 317.3L357.5 317.5L357.5 317.7L357.4 317.9L357.2 318.1L357.1 318.3L357.1 318.5L356.7 318.5L356.7 318.8L356.4 318.9L356.4 319.2L356.1 319.2L355.9 319.3L355.7 319.4L355.5 319.6L355.3 319.7L355.0 319.9L354.8 319.6L354.5 319.7L354.1 320.1L353.9 319.7L353.7 319.5L353.5 319.5L353.4 319.0L353.0 319.2L352.9 318.9L352.9 318.6L352.5 318.5L352.6 318.2L352.5 318.0L352.3 317.8L352.3 317.5L352.3 317.3L352.3 317.0Z M352.9 316.8L352.7 316.6L352.7 316.4L352.8 316.2L352.9 316.0L353.0 315.9L353.1 315.7L353.3 315.6L353.2 315.3L353.5 315.3L353.6 315.1L353.7 315.0L354.0 315.0L354.0 314.6L354.2 314.7L354.4 314.7L354.6 314.5L354.8 314.6L355.0 314.4L355.2 314.5L355.4 314.4L355.6 314.5L355.8 314.6L356.1 314.5L356.2 314.7L356.3 314.9L356.6 314.9L356.8 315.0L357.0 315.1L356.9 315.5L357.2 315.6L357.2 315.8L357.3 316.0L357.2 316.2L357.3 316.4L357.3 316.6L357.2 316.8L357.0 317.0L357.2 317.2L357.1 317.4L357.1 317.6L357.1 317.8L356.9 317.9L356.9 318.1L356.7 318.2L356.6 318.4L356.5 318.5L356.3 318.7L356.1 318.7L356.0 318.8L355.7 318.9L355.6 318.9L355.4 319.1L355.2 319.2L355.0 319.1L354.8 319.3L354.5 319.4L354.3 319.3L354.2 319.1L353.9 319.1L353.7 319.0L353.5 318.9L353.4 318.7L353.2 318.6L353.1 318.4L353.0 318.2L352.9 318.0L352.8 317.8L352.7 317.6L352.6 317.4L352.7 317.2L352.6 317.0Z M353.4 316.8L353.4 316.7L353.3 316.5L353.4 316.4L353.6 316.3L353.4 316.1L353.6 316.0L353.7 315.9L353.6 315.6L353.9 315.7L353.9 315.5L354.0 315.4L354.1 315.2L354.2 315.1L354.4 315.1L354.5 314.9L354.7 314.9L354.8 314.9L355.0 314.6L355.2 314.7L355.4 314.8L355.5 314.8L355.7 314.9L355.9 314.9L356.0 315.0L356.2 315.0L356.1 315.4L356.3 315.5L356.5 315.6L356.4 315.8L356.6 315.9L356.6 316.0L356.8 316.2L356.8 316.3L356.8 316.5L356.8 316.6L356.8 316.8L356.7 316.9L356.7 317.1L356.6 317.2L356.5 317.3L356.4 317.4L356.3 317.6L356.4 317.8L356.1 317.7L356.2 318.0L356.1 318.1L356.1 318.3L355.9 318.4L355.8 318.4L355.7 318.6L355.4 318.5L355.4 318.8L355.2 318.9L355.0 318.7L354.8 319.0L354.6 318.9L354.5 318.8L354.3 318.6L354.1 318.8L353.9 318.6L353.8 318.5L353.8 318.3L353.5 318.3L353.4 318.1L353.4 317.9L353.3 317.8L353.4 317.6L353.3 317.4L353.3 317.3L353.3 317.1L353.0 317.0Z M353.7 316.8L353.6 316.7L353.8 316.6L353.6 316.4L353.6 316.3L353.7 316.2L353.8 316.1L353.9 316.0L353.9 315.8L354.0 315.8L353.9 315.5L354.1 315.5L354.2 315.5L354.4 315.5L354.4 315.2L354.6 315.2L354.7 315.3L354.9 315.3L355.0 315.3L355.1 315.4L355.3 315.2L355.4 315.4L355.4 315.6L355.5 315.6L355.5 315.9L355.8 315.7L355.9 315.7L356.0 315.8L356.1 315.8L356.0 316.1L356.1 316.1L356.2 316.2L356.3 316.3L356.2 316.5L356.4 316.6L356.4 316.7L356.5 316.8L356.3 316.9L356.3 317.0L356.3 317.1L356.3 317.3L356.2 317.4L356.2 317.5L356.2 317.7L356.2 317.8L356.2 318.0L356.0 318.0L355.9 318.1L355.7 318.0L355.7 318.2L355.6 318.3L355.4 318.1L355.2 318.2L355.1 318.2L355.0 318.2L354.9 318.2L354.8 318.1L354.6 318.2L354.6 318.0L354.4 318.0L354.4 317.9L354.3 317.8L354.1 317.9L354.1 317.7L354.0 317.7L354.0 317.5L353.8 317.5L353.8 317.4L353.8 317.2L353.9 317.1L353.6 317.0L353.6 316.9Z M474.5 318.1L474.7 317.4L474.8 316.7L474.6 315.9L474.8 315.2L475.1 314.5L475.3 313.8L475.2 312.8L475.3 311.9L475.8 311.2L476.2 310.4L476.7 309.5L477.4 308.9L478.0 308.0L478.7 307.1L479.6 306.5L480.6 306.3L481.6 305.7L482.7 305.6L483.8 305.7L484.8 306.0L485.8 306.4L486.7 307.1L487.6 307.6L488.3 308.3L488.8 309.3L489.4 310.1L489.8 311.0L490.2 311.8L490.5 312.7L490.3 313.7L490.7 314.4L490.9 315.1L490.8 315.9L490.8 316.7L490.8 317.4L490.7 318.1L490.8 318.8L490.9 319.5L490.7 320.2L490.7 321.0L490.6 321.8L490.4 322.6L490.1 323.3L489.9 324.2L489.7 325.1L489.3 325.9L488.7 326.7L488.1 327.4L487.4 328.2L486.7 329.0L485.8 329.6L484.8 329.9L483.8 330.4L482.7 330.5L481.6 330.5L480.6 330.1L479.5 330.0L478.6 329.3L477.9 328.4L477.2 327.7L476.5 327.0L476.0 326.1L475.6 325.2L475.3 324.3L475.1 323.5L474.9 322.6L474.8 321.8L474.6 321.1L474.9 320.2L474.6 319.5L474.4 318.8Z M474.2 318.1L473.8 317.3L473.8 316.5L474.0 315.8L474.1 315.0L474.2 314.1L474.4 313.3L474.7 312.5L475.1 311.7L475.5 310.9L476.1 310.2L476.8 309.7L477.4 309.0L478.2 308.4L479.0 308.0L480.0 307.9L480.8 307.3L481.8 307.3L482.7 307.5L483.6 307.7L484.5 307.9L485.3 308.2L486.0 308.9L486.8 309.4L487.3 310.1L487.9 310.6L488.4 311.4L488.7 312.1L489.3 312.6L489.7 313.2L490.1 313.8L490.3 314.6L490.7 315.2L490.9 315.9L491.2 316.6L491.2 317.4L491.5 318.1L491.4 318.9L491.5 319.7L491.6 320.5L491.2 321.2L491.1 322.0L491.2 323.0L490.6 323.6L490.3 324.5L489.9 325.3L489.4 326.1L488.7 326.6L488.0 327.3L487.2 327.7L486.4 328.2L485.5 328.7L484.6 328.8L483.6 328.8L482.7 328.8L481.8 328.6L480.9 328.3L480.1 327.8L479.4 327.2L478.6 326.8L478.1 326.1L477.4 325.6L476.8 325.1L476.4 324.4L475.9 323.8L475.8 322.9L475.4 322.3L475.2 321.6L474.9 321.0L474.7 320.2L474.5 319.6L474.1 318.9Z M473.9 318.1L474.0 317.3L474.2 316.6L474.5 315.9L474.6 315.2L474.8 314.4L475.1 313.7L475.6 313.1L476.0 312.5L476.5 311.9L476.9 311.2L477.5 310.7L478.2 310.2L478.8 309.8L479.5 309.3L480.3 309.1L481.0 308.7L481.9 308.6L482.7 308.5L483.5 308.4L484.4 308.5L485.3 308.4L486.0 309.0L486.8 309.4L487.4 309.9L488.0 310.5L488.8 310.9L489.4 311.4L489.6 312.3L490.1 312.9L490.6 313.6L490.8 314.3L490.8 315.2L491.3 315.8L491.3 316.6L491.4 317.3L491.3 318.1L491.4 318.9L491.3 319.6L490.9 320.3L490.8 321.1L490.4 321.7L490.1 322.4L489.7 323.0L489.4 323.7L488.9 324.3L488.5 325.0L487.9 325.5L487.2 325.9L486.7 326.6L485.9 326.9L485.2 327.3L484.4 327.5L483.5 327.8L482.7 327.8L481.9 327.7L481.0 327.7L480.2 327.5L479.4 327.2L478.6 326.9L478.0 326.2L477.3 325.8L476.8 325.2L476.2 324.6L475.7 324.0L475.3 323.3L475.0 322.6L474.6 321.9L474.4 321.1L474.1 320.4L474.0 319.6L474.1 318.9Z M474.8 318.1L474.6 317.4L474.6 316.7L474.8 316.0L474.9 315.3L475.0 314.5L475.2 313.8L475.4 313.0L475.8 312.3L476.1 311.5L476.7 310.9L477.1 310.2L477.9 309.8L478.6 309.2L479.4 308.9L480.1 308.6L481.0 308.3L481.8 308.3L482.7 308.3L483.5 308.7L484.3 308.9L485.1 309.1L485.8 309.7L486.4 310.2L486.9 310.8L487.4 311.3L487.9 311.9L488.4 312.4L488.8 313.0L489.1 313.6L489.3 314.3L489.6 314.9L490.2 315.4L490.1 316.1L490.4 316.7L490.5 317.4L490.6 318.1L490.7 318.8L490.7 319.5L490.8 320.3L490.5 321.0L490.5 321.7L490.3 322.5L490.0 323.2L489.6 323.9L489.2 324.6L488.7 325.2L488.1 325.7L487.5 326.3L486.8 326.8L486.0 327.2L485.2 327.6L484.4 327.9L483.5 327.7L482.7 327.8L481.9 327.6L481.1 327.2L480.4 326.8L479.6 326.5L479.0 326.0L478.5 325.4L478.0 324.9L477.5 324.3L477.2 323.6L476.7 323.2L476.3 322.6L475.9 322.0L475.8 321.3L475.6 320.7L475.2 320.1L475.1 319.4L474.9 318.8Z M474.9 318.1L474.9 317.4L474.9 316.7L475.2 316.1L475.2 315.4L475.7 314.8L475.6 314.0L476.0 313.4L476.5 312.9L476.9 312.3L477.4 311.8L477.9 311.3L478.5 310.8L479.1 310.4L479.8 310.0L480.4 309.7L481.2 309.6L481.9 309.4L482.7 309.5L483.4 309.6L484.2 309.4L485.0 309.7L485.6 310.2L486.3 310.4L486.9 310.8L487.3 311.5L487.9 311.8L488.5 312.3L489.0 312.8L489.4 313.4L489.7 314.0L489.9 314.7L490.2 315.4L490.2 316.1L490.5 316.7L490.6 317.4L490.4 318.1L490.6 318.8L490.6 319.5L490.5 320.2L490.3 320.9L489.8 321.4L489.6 322.1L489.2 322.7L489.0 323.4L488.4 323.8L487.9 324.3L487.4 324.8L486.9 325.4L486.3 325.8L485.6 326.1L484.9 326.4L484.2 326.6L483.5 326.9L482.7 326.7L481.9 326.8L481.2 326.7L480.5 326.5L479.7 326.3L479.1 325.9L478.5 325.4L477.8 325.0L477.3 324.5L476.9 323.9L476.5 323.3L476.2 322.6L475.8 322.1L475.6 321.4L475.4 320.8L475.1 320.1L475.1 319.4L475.0 318.8Z M475.9 318.1L476.0 317.5L476.1 316.9L476.1 316.3L476.4 315.8L476.8 315.3L477.0 314.8L477.2 314.2L477.4 313.7L477.8 313.2L478.1 312.6L478.5 312.1L478.8 311.4L479.2 310.7L479.8 310.2L480.5 310.0L481.2 309.5L481.9 309.3L482.7 309.2L483.5 308.9L484.3 309.0L485.1 309.2L485.9 309.4L486.5 309.9L487.2 310.3L487.7 311.0L488.2 311.5L488.6 312.2L488.9 312.9L489.2 313.5L489.3 314.3L489.5 315.0L489.6 315.6L489.6 316.2L489.6 316.9L489.5 317.5L489.4 318.1L489.4 318.7L489.3 319.3L489.0 319.8L489.0 320.4L488.8 320.9L488.6 321.5L488.4 322.1L488.0 322.5L487.9 323.3L487.4 323.6L487.0 324.3L486.6 324.9L486.1 325.4L485.5 325.9L484.9 326.3L484.2 326.7L483.5 327.0L482.7 327.3L481.9 327.2L481.1 327.3L480.3 327.1L479.6 326.7L478.9 326.3L478.2 325.8L477.8 325.1L477.2 324.7L476.8 324.0L476.5 323.3L476.2 322.7L476.0 322.0L475.9 321.3L475.7 320.6L475.8 319.9L475.5 319.4L475.9 318.7Z M475.7 318.1L475.7 317.5L475.6 316.9L475.8 316.3L476.0 315.7L476.0 315.0L476.3 314.4L476.7 313.9L477.1 313.4L477.6 313.0L477.9 312.4L478.3 311.8L478.9 311.6L479.5 311.2L480.0 310.8L480.7 310.8L481.3 310.2L482.0 310.4L482.7 310.3L483.4 310.3L484.1 310.3L484.7 310.6L485.2 311.1L485.8 311.4L486.4 311.7L486.8 312.3L487.3 312.6L487.7 313.1L488.2 313.5L488.6 314.0L488.6 314.7L489.1 315.1L489.3 315.7L489.4 316.3L489.5 316.9L489.6 317.5L489.7 318.1L489.7 318.7L489.8 319.3L489.7 320.0L489.4 320.5L489.1 321.1L489.0 321.8L488.4 322.1L488.2 322.7L488.0 323.4L487.7 324.0L487.0 324.2L486.5 324.7L485.9 325.0L485.4 325.4L484.7 325.6L484.0 325.7L483.4 326.0L482.7 325.9L482.0 325.9L481.4 325.7L480.7 325.4L480.1 325.2L479.5 325.0L479.0 324.5L478.4 324.2L478.0 323.7L477.6 323.2L477.2 322.7L476.9 322.1L476.7 321.6L476.3 321.1L476.0 320.5L476.0 319.9L475.8 319.3L475.7 318.7Z M476.3 318.1L476.4 317.6L476.3 317.0L476.3 316.4L476.3 315.8L476.4 315.1L476.7 314.7L477.0 314.1L477.2 313.4L477.6 313.0L477.8 312.2L478.4 311.9L478.8 311.4L479.4 311.0L480.0 310.6L480.7 310.5L481.3 310.3L482.0 310.2L482.7 310.3L483.4 310.3L484.0 310.7L484.5 311.2L485.2 311.3L485.6 311.9L486.1 312.2L486.6 312.5L486.9 313.1L487.1 313.7L487.4 314.1L487.8 314.6L488.1 315.0L488.2 315.6L488.5 316.0L488.6 316.5L488.8 317.0L488.9 317.6L489.2 318.1L488.9 318.6L489.0 319.2L489.1 319.8L489.1 320.4L488.8 320.9L488.7 321.5L488.4 322.1L488.3 322.8L487.9 323.3L487.6 324.0L487.1 324.4L486.6 324.8L486.0 325.2L485.4 325.6L484.8 325.8L484.1 325.9L483.4 326.0L482.7 326.0L482.0 325.7L481.4 325.6L480.8 325.2L480.3 324.8L479.7 324.4L479.2 324.1L478.8 323.7L478.6 322.9L478.2 322.6L477.9 322.1L477.7 321.6L477.4 321.1L477.2 320.7L477.0 320.2L476.8 319.7L476.6 319.2L476.6 318.6Z M477.5 318.1L477.5 317.6L477.3 317.1L477.5 316.7L477.4 316.2L477.4 315.6L477.4 315.1L477.6 314.5L477.7 313.9L478.0 313.4L478.3 312.8L478.6 312.2L479.1 311.9L479.5 311.2L480.0 310.7L480.6 310.4L481.3 310.2L482.0 309.9L482.7 310.0L483.4 310.0L484.0 310.6L484.7 310.7L485.2 311.1L485.8 311.5L486.2 312.0L486.5 312.6L486.8 313.2L486.9 313.9L487.4 314.2L487.6 314.7L487.6 315.3L487.7 315.8L487.8 316.2L488.0 316.7L488.0 317.2L488.2 317.6L488.0 318.1L487.9 318.6L488.1 319.1L488.2 319.6L488.0 320.0L488.0 320.6L487.8 321.1L487.7 321.6L487.6 322.2L487.3 322.7L487.1 323.4L486.8 324.0L486.4 324.5L485.9 324.9L485.3 325.3L484.7 325.6L484.1 325.8L483.4 326.2L482.7 326.4L482.0 325.9L481.3 325.8L480.7 325.6L480.2 325.1L479.6 324.7L479.2 324.1L478.9 323.6L478.5 323.1L478.3 322.5L478.2 321.9L477.9 321.5L477.8 320.9L477.7 320.4L477.7 319.9L477.5 319.5L477.5 319.0L477.4 318.6Z M477.0 318.1L477.0 317.6L477.3 317.2L477.3 316.6L477.4 316.2L477.5 315.7L477.9 315.3L478.1 314.9L478.4 314.5L478.8 314.2L479.1 313.8L479.4 313.4L479.7 312.9L480.2 312.7L480.6 312.3L481.0 311.9L481.6 311.7L482.1 311.5L482.7 311.4L483.3 311.6L483.9 311.6L484.4 311.6L485.0 311.7L485.5 312.0L486.0 312.5L486.4 312.8L486.7 313.3L487.2 313.6L487.4 314.2L487.8 314.5L488.1 315.0L488.2 315.5L488.1 316.1L488.4 316.6L488.4 317.1L488.4 317.6L488.5 318.1L488.3 318.6L488.1 319.0L488.0 319.5L488.0 320.0L487.7 320.4L487.4 320.8L487.1 321.2L487.0 321.7L486.7 322.1L486.5 322.6L486.0 322.8L485.7 323.3L485.3 323.7L484.8 323.8L484.3 324.1L483.8 324.6L483.3 324.5L482.7 324.7L482.1 324.8L481.6 324.6L481.0 324.5L480.5 324.2L479.9 324.2L479.4 323.8L479.0 323.4L478.7 322.8L478.1 322.7L477.9 322.2L477.7 321.6L477.3 321.2L477.5 320.5L477.1 320.1L477.2 319.6L476.7 319.2L477.3 318.6Z M477.7 318.1L477.6 317.7L477.7 317.2L477.9 316.8L478.1 316.4L478.0 315.9L478.5 315.7L478.6 315.2L478.7 314.7L479.1 314.5L479.4 314.1L479.6 313.6L479.9 313.3L480.4 313.1L480.7 312.6L481.1 312.1L481.6 312.1L482.1 311.8L482.7 311.7L483.3 311.8L483.8 311.6L484.4 311.8L484.9 311.9L485.4 312.3L485.9 312.6L486.3 313.0L486.7 313.4L486.9 313.9L487.2 314.3L487.5 314.7L487.5 315.3L487.7 315.8L487.8 316.3L487.8 316.7L487.7 317.2L487.8 317.7L487.9 318.1L487.7 318.5L487.5 319.0L487.6 319.4L487.2 319.7L487.3 320.2L487.0 320.6L486.7 320.9L486.5 321.3L486.3 321.7L486.2 322.2L485.8 322.6L485.4 322.9L485.0 323.1L484.6 323.4L484.2 323.8L483.7 324.0L483.2 324.3L482.7 324.4L482.1 324.5L481.6 324.5L481.0 324.3L480.5 324.2L480.0 323.9L479.5 323.7L479.1 323.3L478.7 322.9L478.4 322.4L478.2 321.8L478.1 321.3L477.7 321.0L477.6 320.5L477.7 319.9L477.4 319.5L477.5 319.0L477.6 318.5Z M477.9 318.1L477.9 317.7L477.8 317.2L478.0 316.8L478.0 316.4L478.1 316.0L478.5 315.7L478.6 315.2L478.7 314.7L479.2 314.6L479.3 314.1L479.7 313.9L480.1 313.6L480.4 313.1L480.8 312.9L481.3 312.8L481.8 312.7L482.2 312.5L482.7 312.5L483.2 312.6L483.7 312.6L484.1 312.9L484.5 313.1L485.0 313.2L485.3 313.6L485.7 313.8L486.0 314.2L486.3 314.5L486.5 314.9L486.8 315.2L487.1 315.6L487.2 316.0L487.3 316.4L487.5 316.8L487.5 317.3L487.5 317.7L487.6 318.1L487.7 318.5L487.7 319.0L487.6 319.4L487.5 319.9L487.4 320.3L487.1 320.6L487.0 321.1L486.6 321.4L486.4 321.8L486.1 322.2L485.7 322.4L485.3 322.6L485.0 323.0L484.6 323.2L484.1 323.4L483.7 323.5L483.2 323.5L482.7 323.5L482.2 323.6L481.7 323.6L481.3 323.4L480.9 323.1L480.4 323.1L480.0 322.7L479.7 322.3L479.3 322.1L479.1 321.7L478.8 321.4L478.6 321.0L478.3 320.6L478.2 320.2L478.1 319.8L477.9 319.4L477.7 319.0L477.9 318.5Z M478.3 318.1L478.1 317.7L478.2 317.3L478.2 316.9L478.4 316.5L478.4 316.1L478.6 315.8L478.8 315.4L478.9 314.9L479.2 314.6L479.5 314.3L479.8 313.9L480.2 313.7L480.5 313.3L480.9 313.0L481.4 313.2L481.8 313.0L482.3 313.1L482.7 313.1L483.1 313.0L483.6 313.1L484.0 313.3L484.4 313.5L484.7 313.8L485.0 314.2L485.4 314.2L485.7 314.6L486.0 314.8L486.1 315.2L486.4 315.5L486.5 315.9L486.7 316.2L486.8 316.6L487.0 316.9L487.2 317.3L487.2 317.7L486.9 318.1L487.2 318.5L487.2 318.9L487.2 319.3L487.1 319.7L486.9 320.1L486.8 320.4L486.6 320.8L486.4 321.2L486.3 321.7L485.9 322.0L485.6 322.2L485.3 322.6L485.0 322.9L484.5 322.9L484.0 323.1L483.6 323.2L483.1 323.1L482.7 323.2L482.3 323.1L481.8 323.1L481.4 322.9L481.0 322.8L480.7 322.4L480.3 322.3L480.1 321.8L479.8 321.6L479.4 321.4L479.2 321.1L479.0 320.7L478.7 320.4L478.6 320.0L478.6 319.6L478.4 319.2L478.4 318.9L478.2 318.5Z M479.0 318.1L479.1 317.8L479.3 317.5L478.9 317.1L479.2 316.8L479.6 316.6L479.4 316.2L479.6 316.0L479.9 315.7L479.9 315.3L480.1 314.9L480.2 314.6L480.5 314.2L480.8 314.1L481.1 313.7L481.4 313.4L481.8 313.2L482.3 313.0L482.7 312.9L483.2 312.8L483.6 313.1L484.0 313.2L484.5 313.1L484.9 313.5L485.2 313.7L485.5 314.1L485.7 314.5L485.9 314.9L486.2 315.2L486.2 315.6L486.4 316.0L486.4 316.4L486.6 316.7L486.6 317.1L486.6 317.4L486.4 317.8L486.4 318.1L486.5 318.4L486.3 318.7L486.0 319.0L486.2 319.4L486.0 319.7L485.9 319.9L485.8 320.3L485.6 320.5L485.6 321.0L485.4 321.3L485.1 321.6L484.9 322.0L484.7 322.3L484.3 322.4L483.9 322.7L483.5 322.9L483.1 323.2L482.7 323.2L482.2 323.4L481.8 323.3L481.4 323.1L481.0 322.8L480.6 322.7L480.1 322.6L479.9 322.0L479.7 321.7L479.4 321.4L479.1 321.1L479.1 320.6L479.1 320.2L479.0 319.8L478.9 319.5L478.9 319.1L478.8 318.8L478.7 318.5Z M479.4 318.1L479.5 317.8L479.5 317.5L479.4 317.2L479.4 316.9L479.4 316.6L479.6 316.3L479.6 315.9L479.8 315.6L479.9 315.3L480.0 314.9L480.2 314.6L480.5 314.3L480.7 313.9L481.1 313.7L481.5 313.5L481.8 313.3L482.3 313.2L482.7 313.2L483.1 313.4L483.5 313.3L483.9 313.7L484.2 314.0L484.5 314.2L484.7 314.6L485.0 314.9L485.2 315.2L485.4 315.4L485.4 315.9L485.6 316.1L485.6 316.4L485.9 316.6L485.8 317.0L485.9 317.3L486.0 317.5L485.8 317.8L485.9 318.1L485.8 318.4L485.8 318.7L486.0 319.0L485.9 319.3L485.9 319.6L485.8 319.9L485.7 320.2L485.7 320.6L485.5 320.9L485.3 321.2L485.1 321.5L484.9 321.9L484.6 322.3L484.3 322.4L483.9 322.6L483.5 322.6L483.1 322.8L482.7 322.9L482.3 322.7L481.9 322.8L481.5 322.5L481.2 322.3L480.9 322.0L480.7 321.6L480.4 321.4L480.2 321.1L480.1 320.7L479.9 320.4L479.9 320.1L479.8 319.8L479.6 319.6L479.6 319.2L479.7 318.9L479.5 318.7L479.5 318.4Z M479.8 318.1L480.2 317.9L479.8 317.6L479.7 317.3L479.9 317.1L480.1 316.9L479.9 316.5L479.8 316.1L480.1 315.9L480.3 315.7L480.4 315.4L480.6 315.0L480.7 314.7L481.0 314.4L481.3 314.2L481.7 314.3L482.0 313.9L482.3 313.8L482.7 313.6L483.1 313.9L483.4 314.1L483.8 314.1L484.1 314.3L484.3 314.7L484.6 314.7L484.8 315.1L485.0 315.4L485.1 315.7L485.2 316.0L485.4 316.2L485.5 316.5L485.4 316.9L485.4 317.1L485.6 317.3L485.5 317.6L485.4 317.9L485.5 318.1L485.4 318.3L485.5 318.6L485.2 318.8L485.5 319.1L485.6 319.5L485.5 319.7L485.4 320.0L485.3 320.3L485.1 320.5L485.1 320.9L484.9 321.2L484.6 321.5L484.4 321.8L484.1 321.9L483.8 322.2L483.5 322.4L483.1 322.5L482.7 322.4L482.3 322.4L482.0 322.3L481.7 321.9L481.4 321.7L481.1 321.6L480.9 321.3L480.6 321.1L480.5 320.7L480.3 320.5L480.2 320.2L480.2 319.9L480.1 319.6L480.0 319.4L480.0 319.1L480.0 318.8L479.9 318.6L479.8 318.4Z M480.1 318.1L480.2 317.9L480.2 317.7L480.3 317.4L480.3 317.2L480.1 316.9L480.3 316.7L480.5 316.6L480.6 316.3L480.7 316.1L480.8 315.8L480.9 315.6L481.2 315.6L481.3 315.1L481.6 315.2L481.8 314.9L482.1 314.8L482.4 314.8L482.7 314.7L483.0 314.3L483.3 314.4L483.6 314.7L483.9 314.9L484.3 314.8L484.4 315.2L484.7 315.3L485.0 315.4L485.1 315.7L485.2 316.0L485.2 316.3L485.2 316.7L485.3 316.9L485.2 317.2L485.4 317.4L485.3 317.6L485.4 317.9L485.3 318.1L485.2 318.3L485.3 318.6L485.2 318.8L485.1 319.0L485.1 319.2L485.0 319.4L484.8 319.5L484.9 319.9L484.6 320.0L484.5 320.3L484.4 320.5L484.2 320.7L484.0 320.9L483.8 321.1L483.5 321.3L483.3 321.3L483.0 321.6L482.7 321.6L482.4 321.6L482.1 321.8L481.8 321.5L481.5 321.3L481.2 321.3L481.0 321.1L480.7 320.9L480.4 320.8L480.4 320.4L480.2 320.2L480.1 319.9L480.0 319.7L480.0 319.3L480.0 319.1L480.0 318.8L480.0 318.6L479.9 318.3Z M480.4 318.1L480.1 317.9L480.2 317.7L480.3 317.4L480.4 317.3L480.4 317.0L480.6 316.9L480.5 316.5L480.8 316.5L480.8 316.2L481.0 316.1L481.1 315.8L481.4 315.8L481.5 315.5L481.7 315.5L481.9 315.3L482.2 315.3L482.5 315.3L482.7 315.5L482.9 315.4L483.2 315.2L483.4 315.5L483.6 315.6L483.8 315.7L484.0 315.8L484.1 316.1L484.4 316.0L484.5 316.3L484.7 316.5L484.7 316.7L485.0 316.8L484.9 317.1L485.1 317.2L485.1 317.5L485.0 317.7L485.1 317.9L485.2 318.1L485.1 318.3L485.1 318.5L485.1 318.8L485.0 318.9L484.9 319.1L484.9 319.4L484.8 319.5L484.8 319.8L484.6 320.0L484.5 320.3L484.3 320.4L484.1 320.4L483.9 320.6L483.6 320.6L483.4 320.8L483.2 320.8L483.0 321.0L482.7 320.8L482.5 320.9L482.2 320.7L482.0 320.8L481.8 320.7L481.6 320.4L481.3 320.5L481.2 320.2L481.2 319.9L481.0 319.8L480.9 319.6L480.8 319.4L480.6 319.3L480.7 319.0L480.4 318.9L480.5 318.7L480.3 318.5L480.1 318.3Z M480.7 318.1L480.7 317.9L480.8 317.8L480.8 317.6L481.0 317.5L481.0 317.3L481.0 317.1L481.1 317.0L481.3 316.9L481.3 316.7L481.4 316.5L481.5 316.3L481.6 316.3L481.8 316.2L481.9 315.9L482.1 315.8L482.3 315.9L482.5 315.9L482.7 315.7L482.9 315.5L483.1 315.6L483.3 315.8L483.6 315.6L483.7 315.9L484.0 315.9L484.1 316.2L484.3 316.2L484.4 316.4L484.4 316.7L484.6 316.8L484.5 317.0L484.6 317.2L484.6 317.4L484.6 317.6L484.8 317.7L484.8 317.9L484.7 318.1L484.5 318.3L484.6 318.4L484.6 318.6L484.5 318.8L484.4 318.9L484.3 319.0L484.4 319.3L484.1 319.3L484.1 319.5L483.9 319.5L483.9 319.8L483.7 319.9L483.6 320.0L483.5 320.3L483.3 320.3L483.1 320.5L482.9 320.5L482.7 320.5L482.5 320.4L482.3 320.6L482.0 320.6L481.9 320.3L481.7 320.3L481.6 320.0L481.3 320.0L481.3 319.8L481.0 319.8L481.0 319.5L480.8 319.4L480.9 319.1L480.9 318.9L480.8 318.8L480.8 318.6L480.6 318.5L480.7 318.3Z M481.2 318.1L481.3 318.0L481.5 317.9L481.3 317.7L481.3 317.6L481.3 317.5L481.3 317.3L481.4 317.2L481.6 317.1L481.5 316.9L481.6 316.8L481.7 316.6L481.7 316.3L482.0 316.5L482.0 316.2L482.2 316.1L482.3 315.9L482.5 316.0L482.7 316.0L482.9 315.9L483.1 316.0L483.2 316.2L483.4 316.2L483.5 316.5L483.5 316.7L483.7 316.7L483.8 316.8L483.8 317.0L484.1 316.9L483.9 317.3L484.1 317.3L484.1 317.4L484.3 317.5L484.1 317.7L484.3 317.8L484.0 318.0L484.1 318.1L484.1 318.2L484.0 318.3L484.1 318.5L484.2 318.7L484.2 318.8L484.1 318.9L483.9 318.9L483.9 319.1L483.9 319.3L483.9 319.5L483.8 319.6L483.6 319.7L483.5 319.8L483.4 320.0L483.2 320.1L483.1 320.3L482.9 320.2L482.7 320.3L482.5 320.4L482.3 320.4L482.1 320.3L482.0 319.9L481.9 319.8L481.7 319.8L481.7 319.6L481.7 319.3L481.4 319.4L481.4 319.2L481.3 319.1L481.3 318.9L481.2 318.8L481.3 318.6L481.3 318.5L481.1 318.4L481.4 318.2Z M481.8 318.1L481.5 318.0L481.6 317.9L481.7 317.8L481.8 317.8L481.7 317.6L481.5 317.4L481.6 317.4L481.8 317.4L481.9 317.3L481.6 316.8L481.9 317.0L482.0 317.0L482.1 316.7L482.1 316.6L482.2 316.4L482.4 316.5L482.6 316.6L482.7 316.4L482.8 316.6L483.0 316.5L483.1 316.6L483.2 316.6L483.3 316.9L483.4 317.0L483.5 317.0L483.6 317.1L483.5 317.3L483.6 317.4L483.7 317.4L483.6 317.6L483.9 317.5L483.8 317.7L483.9 317.8L483.7 317.9L483.8 318.0L483.8 318.1L483.9 318.2L483.7 318.3L483.9 318.4L483.7 318.5L483.9 318.6L483.8 318.7L483.7 318.8L483.8 319.0L483.7 319.1L483.6 319.1L483.5 319.2L483.5 319.4L483.3 319.4L483.2 319.6L483.1 319.5L483.0 319.7L482.8 319.6L482.7 319.7L482.5 319.8L482.4 319.8L482.3 319.5L482.2 319.5L482.2 319.2L482.0 319.3L481.9 319.3L481.9 319.0L481.9 318.9L481.8 318.9L481.8 318.7L481.7 318.7L481.6 318.6L481.6 318.5L481.6 318.4L481.5 318.3L481.6 318.2Z" fill="none" stroke="#1a1a1a" stroke-width="0.7" stroke-linejoin="round"/>
<ellipse cx="355" cy="316.8" rx="1.0" ry="1.3" fill="#e8e8e8"/>
<ellipse cx="482.8" cy="318.2" rx="1.0" ry="1.3" fill="#e8e8e8"/>
<rect x="329.8" y="297.6" width="48.1" height="56.5" fill="none" stroke="#000" stroke-width="1.3"/>
<rect x="451.9" y="297.8" width="47.6" height="56.5" fill="none" stroke="#000" stroke-width="1.3"/>
<text x="306.3" y="289.2" font-size="11.2">90.0+1.7</text>
<line x1="329.8" y1="291" x2="335.6" y2="291" stroke="#000" stroke-width="0.9"/>
<text x="429.5" y="289.2" font-size="11.2">87.3+1.2</text>
<line x1="452.8" y1="291" x2="458.6" y2="291" stroke="#000" stroke-width="0.9"/>
<text x="0.2" y="462.5" font-size="20" font-weight="bold">D</text>
<rect x="45.1" y="450.1" width="15.2" height="15.7" fill="#fff" stroke="#000" stroke-width="1.7"/>
<text x="63.3" y="461.8" font-size="12.5" font-style="italic">Stat5<tspan font-size="8.5" dx="-0.2" dy="-3.9">f/f</tspan></text>
<rect x="106.3" y="449.8" width="16.4" height="17.3" fill="#000"/>
<text x="126.8" y="462.3" font-size="12.5" font-style="italic">Stat5<tspan font-size="8.5" dx="-0.2" dy="-3.9">f/f</tspan><tspan dy="3.9">:Mx1-Cre</tspan></text>
<line x1="53.2" y1="484.8" x2="53.2" y2="623" stroke="#000" stroke-width="2.1"/>
<line x1="52.2" y1="622" x2="115" y2="622" stroke="#000" stroke-width="2.1"/>
<line x1="53.2" y1="622" x2="56.2" y2="622" stroke="#000" stroke-width="1.6"/>
<line x1="53.2" y1="599.27" x2="56.2" y2="599.27" stroke="#000" stroke-width="1.6"/>
<line x1="53.2" y1="576.53" x2="56.2" y2="576.53" stroke="#000" stroke-width="1.6"/>
<line x1="53.2" y1="553.8" x2="56.2" y2="553.8" stroke="#000" stroke-width="1.6"/>
<line x1="53.2" y1="531.06" x2="56.2" y2="531.06" stroke="#000" stroke-width="1.6"/>
<line x1="53.2" y1="508.33" x2="56.2" y2="508.33" stroke="#000" stroke-width="1.6"/>
<line x1="53.2" y1="485.6" x2="56.2" y2="485.6" stroke="#000" stroke-width="1.6"/>
<text x="37.4" y="490.4" font-size="12.5" text-anchor="middle">120</text>
<text x="37.3" y="513.13" font-size="12.5" text-anchor="middle">100</text>
<text x="38.8" y="535.86" font-size="12.5" text-anchor="middle">80</text>
<text x="38.8" y="558.6" font-size="12.5" text-anchor="middle">60</text>
<text x="38.8" y="581.33" font-size="12.5" text-anchor="middle">40</text>
<text x="38.9" y="604.07" font-size="12.5" text-anchor="middle">20</text>
<text x="40.5" y="626.8" font-size="12.5" text-anchor="middle">0</text>
<line x1="94" y1="502" x2="94" y2="494.2" stroke="#000" stroke-width="1.4"/>
<line x1="91.8" y1="494.2" x2="96.2" y2="494.2" stroke="#000" stroke-width="1.6"/>
<rect x="61.6" y="509.13" width="20.6" height="111.87" fill="#fff" stroke="#000" stroke-width="1.6"/>
<rect x="83" y="501.9" width="21.6" height="119.1" fill="#000"/>
<text transform="translate(22.1,552) rotate(-90)" font-size="12.6" text-anchor="middle">Superoxide production (%)</text>
<text x="233.3" y="462.7" font-size="20" font-weight="bold">E</text>
<rect x="285" y="450" width="13.9" height="15.6" fill="#fff" stroke="#000" stroke-width="1.7"/>
<text x="302.6" y="462.6" font-size="12.5" font-style="italic">Stat5<tspan font-size="8.5" dx="-0.2" dy="-3.9">f/f</tspan></text>
<rect x="347" y="449.5" width="16" height="16.7" fill="#000"/>
<text x="366.6" y="463" font-size="12.5" font-style="italic">Stat5<tspan font-size="8.5" dx="-0.2" dy="-3.9">f/f</tspan><tspan dy="3.9">:Mx1-Cre</tspan></text>
<line x1="286.2" y1="483.9" x2="286.2" y2="623.5" stroke="#000" stroke-width="2.0"/>
<line x1="285.2" y1="622.5" x2="454.6" y2="622.5" stroke="#000" stroke-width="2.1"/>
<line x1="286.2" y1="622.4" x2="288.8" y2="622.4" stroke="#000" stroke-width="1.6"/>
<text x="280.3" y="628.9" font-size="12.6" text-anchor="end">0</text>
<line x1="286.2" y1="599.45" x2="288.8" y2="599.45" stroke="#000" stroke-width="1.6"/>
<text x="280.3" y="604.95" font-size="12.6" text-anchor="end">20</text>
<line x1="286.2" y1="576.5" x2="288.8" y2="576.5" stroke="#000" stroke-width="1.6"/>
<text x="280.3" y="582" font-size="12.6" text-anchor="end">40</text>
<line x1="286.2" y1="553.55" x2="288.8" y2="553.55" stroke="#000" stroke-width="1.6"/>
<text x="280.3" y="559.05" font-size="12.6" text-anchor="end">60</text>
<line x1="286.2" y1="530.6" x2="288.8" y2="530.6" stroke="#000" stroke-width="1.6"/>
<text x="280.3" y="536.1" font-size="12.6" text-anchor="end">80</text>
<line x1="286.2" y1="507.65" x2="288.8" y2="507.65" stroke="#000" stroke-width="1.6"/>
<text x="280.3" y="513.15" font-size="12.6" text-anchor="end">100</text>
<line x1="286.2" y1="484.7" x2="288.8" y2="484.7" stroke="#000" stroke-width="1.6"/>
<text x="280.3" y="490.2" font-size="12.6" text-anchor="end">120</text>
<line x1="305.3" y1="565.7" x2="305.3" y2="554.7" stroke="#000" stroke-width="1.3"/>
<line x1="303.7" y1="554.7" x2="306.9" y2="554.7" stroke="#000" stroke-width="1.5"/>
<line x1="326.1" y1="564.7" x2="326.1" y2="560.8" stroke="#000" stroke-width="1.3"/>
<line x1="324.5" y1="560.8" x2="327.7" y2="560.8" stroke="#000" stroke-width="1.5"/>
<line x1="359.9" y1="510.7" x2="359.9" y2="505.4" stroke="#000" stroke-width="1.3"/>
<line x1="358.3" y1="505.4" x2="361.5" y2="505.4" stroke="#000" stroke-width="1.5"/>
<line x1="381.2" y1="513.5" x2="381.2" y2="502.2" stroke="#000" stroke-width="1.3"/>
<line x1="379.6" y1="502.2" x2="382.8" y2="502.2" stroke="#000" stroke-width="1.5"/>
<line x1="415.3" y1="515.2" x2="415.3" y2="511.1" stroke="#000" stroke-width="1.3"/>
<line x1="413.7" y1="511.1" x2="416.9" y2="511.1" stroke="#000" stroke-width="1.5"/>
<line x1="436.8" y1="545.1" x2="436.8" y2="541.5" stroke="#000" stroke-width="1.3"/>
<line x1="435.2" y1="541.5" x2="438.4" y2="541.5" stroke="#000" stroke-width="1.5"/>
<rect x="294.6" y="566.5" width="19.6" height="55.5" fill="#fff" stroke="#000" stroke-width="1.6"/>
<rect x="315" y="564.7" width="20.5" height="57.3" fill="#000"/>
<rect x="349.6" y="511.5" width="19.3" height="110.5" fill="#fff" stroke="#000" stroke-width="1.6"/>
<rect x="369.7" y="513.5" width="21.1" height="108.5" fill="#000"/>
<rect x="404.3" y="516" width="19.8" height="106" fill="#fff" stroke="#000" stroke-width="1.6"/>
<rect x="424.9" y="545.1" width="21.1" height="76.9" fill="#000"/>
<path d="M414.2 506.6 V499.3 H438.2 V506.6" fill="none" stroke="#000" stroke-width="1.6"/>
<text x="424.8" y="499.5" font-size="20" text-anchor="middle" font-weight="bold">*</text>
<text x="313.6" y="637.4" font-size="12.3" text-anchor="middle">without</text>
<text x="315.2" y="652.2" font-size="12.3" text-anchor="middle">cytokine</text>
<text x="370" y="638" font-size="12.3" text-anchor="middle">G-CSF</text>
<text x="427.8" y="638" font-size="12.3" text-anchor="middle">GM-CSF</text>
<text transform="translate(250.3,558) rotate(-90)" font-size="12.5" text-anchor="middle">Viability (%)</text>
</svg>
</body></html>
